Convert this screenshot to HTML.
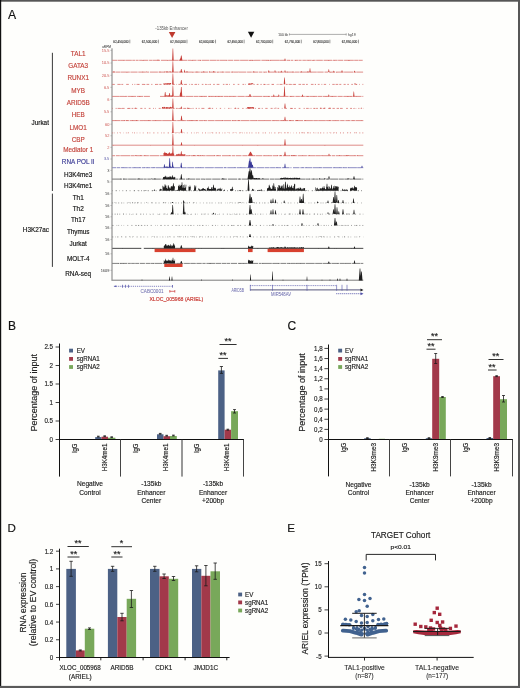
<!DOCTYPE html>
<html><head><meta charset="utf-8"><style>
html,body{margin:0;padding:0;background:#fefefc;}
body{width:520px;height:688px;overflow:hidden;}
svg{display:block;font-family:"Liberation Sans", sans-serif;will-change:transform;}
</style></head><body>
<svg width="520" height="688" viewBox="0 0 520 688" shape-rendering="auto">
<rect width="520" height="688" fill="#fefefc"/>
<text x="8.00" y="18.60" font-size="12.2" fill="#111" stroke="#111" stroke-width="0.16" >A</text>
<text x="171.60" y="29.70" font-size="4.6" fill="#555" text-anchor="middle" textLength="32.5" lengthAdjust="spacingAndGlyphs" >-135kb Enhancer</text>
<polygon points="168.8,32 175.4,32 172.1,37.9" fill="#bf3a2e"/>
<polygon points="247.9,31.7 254.3,31.7 251.1,37.8" fill="#111"/>
<text x="278.20" y="35.70" font-size="3.6" fill="#555" stroke="#555" stroke-width="0.05" textLength="10" lengthAdjust="spacingAndGlyphs" >100 kb</text>
<line x1="289.20" y1="34.40" x2="346.40" y2="34.40" stroke="#777" stroke-width="0.6" />
<line x1="289.40" y1="33.20" x2="289.40" y2="35.60" stroke="#777" stroke-width="0.5" />
<line x1="346.20" y1="33.20" x2="346.20" y2="35.60" stroke="#777" stroke-width="0.5" />
<text x="347.90" y="35.70" font-size="3.6" fill="#555" stroke="#555" stroke-width="0.05" textLength="7.7" lengthAdjust="spacingAndGlyphs" >hg19</text>
<text x="113.20" y="42.90" font-size="3.9" fill="#2a2a2a" stroke="#2a2a2a" stroke-width="0.1" textLength="15.4" lengthAdjust="spacingAndGlyphs" >62,450,000</text>
<line x1="129.80" y1="39.70" x2="129.80" y2="43.30" stroke="#444" stroke-width="0.55" />
<text x="141.78" y="42.90" font-size="3.9" fill="#2a2a2a" stroke="#2a2a2a" stroke-width="0.1" textLength="15.4" lengthAdjust="spacingAndGlyphs" >62,500,000</text>
<line x1="158.38" y1="39.70" x2="158.38" y2="43.30" stroke="#444" stroke-width="0.55" />
<text x="170.36" y="42.90" font-size="3.9" fill="#2a2a2a" stroke="#2a2a2a" stroke-width="0.1" textLength="15.4" lengthAdjust="spacingAndGlyphs" >62,550,000</text>
<line x1="186.96" y1="39.70" x2="186.96" y2="43.30" stroke="#444" stroke-width="0.55" />
<text x="198.94" y="42.90" font-size="3.9" fill="#2a2a2a" stroke="#2a2a2a" stroke-width="0.1" textLength="15.4" lengthAdjust="spacingAndGlyphs" >62,600,000</text>
<line x1="215.54" y1="39.70" x2="215.54" y2="43.30" stroke="#444" stroke-width="0.55" />
<text x="227.52" y="42.90" font-size="3.9" fill="#2a2a2a" stroke="#2a2a2a" stroke-width="0.1" textLength="15.4" lengthAdjust="spacingAndGlyphs" >62,650,000</text>
<line x1="244.12" y1="39.70" x2="244.12" y2="43.30" stroke="#444" stroke-width="0.55" />
<text x="256.10" y="42.90" font-size="3.9" fill="#2a2a2a" stroke="#2a2a2a" stroke-width="0.1" textLength="15.4" lengthAdjust="spacingAndGlyphs" >62,700,000</text>
<line x1="272.70" y1="39.70" x2="272.70" y2="43.30" stroke="#444" stroke-width="0.55" />
<text x="284.68" y="42.90" font-size="3.9" fill="#2a2a2a" stroke="#2a2a2a" stroke-width="0.1" textLength="15.4" lengthAdjust="spacingAndGlyphs" >62,750,000</text>
<line x1="301.28" y1="39.70" x2="301.28" y2="43.30" stroke="#444" stroke-width="0.55" />
<text x="313.26" y="42.90" font-size="3.9" fill="#2a2a2a" stroke="#2a2a2a" stroke-width="0.1" textLength="15.4" lengthAdjust="spacingAndGlyphs" >62,800,000</text>
<line x1="329.86" y1="39.70" x2="329.86" y2="43.30" stroke="#444" stroke-width="0.55" />
<text x="341.84" y="42.90" font-size="3.9" fill="#2a2a2a" stroke="#2a2a2a" stroke-width="0.1" textLength="15.4" lengthAdjust="spacingAndGlyphs" >62,850,000</text>
<line x1="358.44" y1="39.70" x2="358.44" y2="43.30" stroke="#444" stroke-width="0.55" />
<text x="78.20" y="56.05" font-size="7.0" fill="#c4443c" stroke="#c4443c" stroke-width="0.16" text-anchor="middle" textLength="14.75" lengthAdjust="spacingAndGlyphs" >TAL1</text>
<text x="78.20" y="68.15" font-size="7.0" fill="#c4443c" stroke="#c4443c" stroke-width="0.16" text-anchor="middle" textLength="19.94" lengthAdjust="spacingAndGlyphs" >GATA3</text>
<text x="78.20" y="80.25" font-size="7.0" fill="#c4443c" stroke="#c4443c" stroke-width="0.16" text-anchor="middle" textLength="21.59" lengthAdjust="spacingAndGlyphs" >RUNX1</text>
<text x="78.20" y="92.55" font-size="7.0" fill="#c4443c" stroke="#c4443c" stroke-width="0.16" text-anchor="middle" textLength="13.8" lengthAdjust="spacingAndGlyphs" >MYB</text>
<text x="78.20" y="104.85" font-size="7.0" fill="#c4443c" stroke="#c4443c" stroke-width="0.16" text-anchor="middle" textLength="23.01" lengthAdjust="spacingAndGlyphs" >ARID5B</text>
<text x="78.20" y="117.45" font-size="7.0" fill="#c4443c" stroke="#c4443c" stroke-width="0.16" text-anchor="middle" textLength="13.1" lengthAdjust="spacingAndGlyphs" >HEB</text>
<text x="78.20" y="129.75" font-size="7.0" fill="#c4443c" stroke="#c4443c" stroke-width="0.16" text-anchor="middle" textLength="17.35" lengthAdjust="spacingAndGlyphs" >LMO1</text>
<text x="78.20" y="142.05" font-size="7.0" fill="#c4443c" stroke="#c4443c" stroke-width="0.16" text-anchor="middle" textLength="13.1" lengthAdjust="spacingAndGlyphs" >CBP</text>
<text x="78.20" y="151.85" font-size="7.0" fill="#c4443c" stroke="#c4443c" stroke-width="0.16" text-anchor="middle" textLength="30.09" lengthAdjust="spacingAndGlyphs" >Mediator 1</text>
<text x="78.20" y="163.95" font-size="7.0" fill="#3c3c96" stroke="#3c3c96" stroke-width="0.16" text-anchor="middle" textLength="32.69" lengthAdjust="spacingAndGlyphs" >RNA POL II</text>
<text x="78.20" y="176.75" font-size="7.0" fill="#111" stroke="#111" stroke-width="0.16" text-anchor="middle" textLength="28.32" lengthAdjust="spacingAndGlyphs" >H3K4me3</text>
<text x="78.20" y="188.35" font-size="7.0" fill="#111" stroke="#111" stroke-width="0.16" text-anchor="middle" textLength="28.32" lengthAdjust="spacingAndGlyphs" >H3K4me1</text>
<text x="78.20" y="199.55" font-size="7.0" fill="#111" stroke="#111" stroke-width="0.16" text-anchor="middle" textLength="10.98" lengthAdjust="spacingAndGlyphs" >Th1</text>
<text x="78.20" y="210.85" font-size="7.0" fill="#111" stroke="#111" stroke-width="0.16" text-anchor="middle" textLength="10.98" lengthAdjust="spacingAndGlyphs" >Th2</text>
<text x="78.20" y="221.95" font-size="7.0" fill="#111" stroke="#111" stroke-width="0.16" text-anchor="middle" textLength="14.52" lengthAdjust="spacingAndGlyphs" >Th17</text>
<text x="78.20" y="234.05" font-size="7.0" fill="#111" stroke="#111" stroke-width="0.16" text-anchor="middle" textLength="22.65" lengthAdjust="spacingAndGlyphs" >Thymus</text>
<text x="78.20" y="245.65" font-size="7.0" fill="#111" stroke="#111" stroke-width="0.16" text-anchor="middle" textLength="17.35" lengthAdjust="spacingAndGlyphs" >Jurkat</text>
<text x="78.20" y="261.05" font-size="7.0" fill="#111" stroke="#111" stroke-width="0.16" text-anchor="middle" textLength="22.53" lengthAdjust="spacingAndGlyphs" >MOLT-4</text>
<text x="78.20" y="276.35" font-size="7.0" fill="#111" stroke="#111" stroke-width="0.16" text-anchor="middle" textLength="25.84" lengthAdjust="spacingAndGlyphs" >RNA-seq</text>
<line x1="52.40" y1="52.80" x2="52.40" y2="191.00" stroke="#222" stroke-width="0.9" />
<line x1="52.40" y1="193.60" x2="52.40" y2="266.90" stroke="#222" stroke-width="0.9" />
<text x="48.90" y="124.55" font-size="7.0" fill="#111" stroke="#111" stroke-width="0.16" text-anchor="end" textLength="17.35" lengthAdjust="spacingAndGlyphs" >Jurkat</text>
<text x="49.00" y="232.45" font-size="7.0" fill="#111" stroke="#111" stroke-width="0.16" text-anchor="end" textLength="26.2" lengthAdjust="spacingAndGlyphs" >H3K27ac</text>
<line x1="112.00" y1="48.30" x2="112.00" y2="280.90" stroke="#7a7a7a" stroke-width="1.0" />
<text x="111.00" y="48.40" font-size="3.6" fill="#444" stroke="#444" stroke-width="0.05" text-anchor="end" textLength="9" lengthAdjust="spacingAndGlyphs" >uRPM</text>
<text x="109.30" y="51.80" font-size="3.9" fill="#d46a66" stroke="#d46a66" stroke-width="0.04" text-anchor="end" >15.5</text>
<line x1="110.40" y1="50.40" x2="112.00" y2="50.40" stroke="#888" stroke-width="0.5" />
<text x="109.30" y="64.40" font-size="3.9" fill="#d46a66" stroke="#d46a66" stroke-width="0.04" text-anchor="end" >10.5</text>
<line x1="110.40" y1="63.00" x2="112.00" y2="63.00" stroke="#888" stroke-width="0.5" />
<text x="109.30" y="76.70" font-size="3.9" fill="#d46a66" stroke="#d46a66" stroke-width="0.04" text-anchor="end" >20.5</text>
<line x1="110.40" y1="75.30" x2="112.00" y2="75.30" stroke="#888" stroke-width="0.5" />
<text x="109.30" y="88.70" font-size="3.9" fill="#d46a66" stroke="#d46a66" stroke-width="0.04" text-anchor="end" >6.5</text>
<line x1="110.40" y1="87.30" x2="112.00" y2="87.30" stroke="#888" stroke-width="0.5" />
<text x="109.30" y="101.00" font-size="3.9" fill="#d46a66" stroke="#d46a66" stroke-width="0.04" text-anchor="end" >6</text>
<line x1="110.40" y1="99.60" x2="112.00" y2="99.60" stroke="#888" stroke-width="0.5" />
<text x="109.30" y="113.20" font-size="3.9" fill="#d46a66" stroke="#d46a66" stroke-width="0.04" text-anchor="end" >5.5</text>
<line x1="110.40" y1="111.80" x2="112.00" y2="111.80" stroke="#888" stroke-width="0.5" />
<text x="109.30" y="125.60" font-size="3.9" fill="#d46a66" stroke="#d46a66" stroke-width="0.04" text-anchor="end" >60</text>
<line x1="110.40" y1="124.20" x2="112.00" y2="124.20" stroke="#888" stroke-width="0.5" />
<text x="109.30" y="137.20" font-size="3.9" fill="#d46a66" stroke="#d46a66" stroke-width="0.04" text-anchor="end" >52</text>
<line x1="110.40" y1="135.80" x2="112.00" y2="135.80" stroke="#888" stroke-width="0.5" />
<text x="109.30" y="148.70" font-size="3.9" fill="#d46a66" stroke="#d46a66" stroke-width="0.04" text-anchor="end" >2</text>
<line x1="110.40" y1="147.30" x2="112.00" y2="147.30" stroke="#888" stroke-width="0.5" />
<text x="109.30" y="160.40" font-size="3.9" fill="#6a6ab0" stroke="#6a6ab0" stroke-width="0.04" text-anchor="end" >3.5</text>
<line x1="110.40" y1="159.00" x2="112.00" y2="159.00" stroke="#888" stroke-width="0.5" />
<text x="109.30" y="171.80" font-size="3.9" fill="#555" stroke="#555" stroke-width="0.04" text-anchor="end" >3</text>
<line x1="110.40" y1="170.40" x2="112.00" y2="170.40" stroke="#888" stroke-width="0.5" />
<text x="109.30" y="183.30" font-size="3.9" fill="#555" stroke="#555" stroke-width="0.04" text-anchor="end" >5</text>
<line x1="110.40" y1="181.90" x2="112.00" y2="181.90" stroke="#888" stroke-width="0.5" />
<text x="109.30" y="195.20" font-size="3.9" fill="#555" stroke="#555" stroke-width="0.04" text-anchor="end" >16</text>
<line x1="110.40" y1="193.80" x2="112.00" y2="193.80" stroke="#888" stroke-width="0.5" />
<text x="109.30" y="206.90" font-size="3.9" fill="#555" stroke="#555" stroke-width="0.04" text-anchor="end" >16</text>
<line x1="110.40" y1="205.50" x2="112.00" y2="205.50" stroke="#888" stroke-width="0.5" />
<text x="109.30" y="218.20" font-size="3.9" fill="#555" stroke="#555" stroke-width="0.04" text-anchor="end" >16</text>
<line x1="110.40" y1="216.80" x2="112.00" y2="216.80" stroke="#888" stroke-width="0.5" />
<text x="109.30" y="229.40" font-size="3.9" fill="#555" stroke="#555" stroke-width="0.04" text-anchor="end" >16</text>
<line x1="110.40" y1="228.00" x2="112.00" y2="228.00" stroke="#888" stroke-width="0.5" />
<text x="109.30" y="241.00" font-size="3.9" fill="#555" stroke="#555" stroke-width="0.04" text-anchor="end" >16</text>
<line x1="110.40" y1="239.60" x2="112.00" y2="239.60" stroke="#888" stroke-width="0.5" />
<text x="109.30" y="255.20" font-size="3.9" fill="#555" stroke="#555" stroke-width="0.04" text-anchor="end" >16</text>
<line x1="110.40" y1="253.80" x2="112.00" y2="253.80" stroke="#888" stroke-width="0.5" />
<text x="109.30" y="271.70" font-size="3.9" fill="#555" stroke="#555" stroke-width="0.04" text-anchor="end" >1609</text>
<line x1="110.40" y1="270.30" x2="112.00" y2="270.30" stroke="#888" stroke-width="0.5" />
<line x1="112.30" y1="60.30" x2="293.30" y2="60.30" stroke="#cf5550" stroke-width="0.8" stroke-dasharray="4.9 0.4 7.4 0.3 6.5 0.5 2.9 0.6 2.8 0.6 3.0 0.4 5.7 0.8 3.4 0.4 7.2 0.9 6.8 0.5 9.8 0.3 8.9 0.5 3.6 0.4 4.8 0.8 3.9 0.6 7.3 0.5 6.6 0.3 2.9 0.4 7.6 0.6 4.9 0.7 5.9 0.5 8.5 0.7 4.3 0.6 6.4 0.8 8.0 0.5 9.9 0.4 5.6 0.8 3.6 0.6 2.8 0.7 8.2 0.6 9.1 0.5 7.7 0.7 6.8 0.6 8.8 0.9 6.1 0.7 3.0 0.7 7.4 0.9 8.7 0.5 5.4 0.7 2.7 0.6" stroke-opacity="0.85"/>
<line x1="294.50" y1="60.30" x2="363.30" y2="60.30" stroke="#cf5550" stroke-width="0.8" stroke-dasharray="3.8 0.4 2.9 0.8 3.5 0.4 5.4 0.8 3.1 0.6 6.6 0.8 8.6 0.8 4.6 0.5 5.2 0.8 9.7 0.4 3.8 0.4 4.3 0.6 6.9 0.5 2.5 0.6 5.3 0.6 9.6 0.7 6.4 0.7 7.6 0.3 9.2 0.8 9.1 0.8 5.4 0.5 3.3 0.7 3.0 0.3 4.1 0.4 5.1 0.3 2.5 0.4 3.3 0.5 2.7 0.8 7.1 0.4 4.4 0.5 5.2 0.4 8.9 0.9 6.0 0.6 3.1 0.4 5.1 0.5 8.7 0.4 2.7 0.9 6.5 0.4 6.6 0.3 6.5 0.9 9.0 0.7 4.5 0.5 3.8 0.8 6.5 0.8" stroke-opacity="0.85"/>
<path d="M172.10,60.4L172.66,48.60L173.14,48.60L173.70,60.4ZM180.20,60.4L181.00,55.40L181.60,55.40L182.40,60.4ZM179.50,60.4L180.06,58.40L180.54,58.40L181.10,60.4ZM284.30,60.4L284.79,58.40L285.21,58.40L285.70,60.4ZM157.40,60.4L157.82,59.60L158.18,59.60L158.60,60.4ZM123.3,60.4h0.7v-0.16h-0.7ZM142.3,60.4h1.2v-0.38h-1.2ZM167.3,60.4h1.0v-0.49h-1.0ZM191.3,60.4h0.6v-0.30h-0.6ZM192.3,60.4h0.6v-0.43h-0.6ZM200.3,60.4h0.7v-0.35h-0.7ZM226.3,60.4h0.6v-0.23h-0.6ZM249.3,60.4h0.9v-0.34h-0.9ZM250.3,60.4h1.0v-0.27h-1.0ZM252.3,60.4h1.1v-0.49h-1.1ZM254.3,60.4h0.5v-0.24h-0.5ZM266.3,60.4h1.1v-0.17h-1.1ZM268.3,60.4h1.0v-0.48h-1.0ZM270.3,60.4h0.6v-0.45h-0.6ZM280.3,60.4h0.5v-0.21h-0.5ZM289.3,60.4h0.5v-0.24h-0.5ZM295.3,60.4h0.8v-0.44h-0.8ZM308.3,60.4h0.6v-0.20h-0.6ZM312.3,60.4h1.2v-0.44h-1.2ZM328.3,60.4h0.9v-0.28h-0.9ZM332.3,60.4h0.6v-0.24h-0.6ZM334.3,60.4h0.7v-0.16h-0.7ZM348.3,60.4h1.2v-0.44h-1.2Z" fill="#c8403a"/>
<line x1="112.30" y1="72.10" x2="363.30" y2="72.10" stroke="#cf5550" stroke-width="0.8" stroke-dasharray="2.7 0.4 5.2 0.4 8.8 0.6 7.2 0.7 7.6 0.6 2.5 0.8 8.1 0.6 6.5 0.7 3.0 0.7 4.4 0.3 4.5 0.7 4.0 0.7 9.8 0.6 5.4 0.6 7.6 0.8 7.1 0.7 3.1 0.4 4.4 0.7 4.8 0.6 2.6 0.3 4.5 0.7 7.7 0.7 4.7 0.6 6.0 0.6 3.4 0.8 4.0 0.9 9.5 0.3 5.9 0.8 9.8 0.6 4.5 0.4 9.6 0.4 6.9 0.4 6.4 0.9 3.5 0.8 6.3 0.8 7.8 0.4 9.2 0.6 2.7 0.3 6.2 0.6 4.8 0.4 5.1 0.5" stroke-opacity="0.85"/>
<path d="M172.10,72.2L172.66,61.20L173.14,61.20L173.70,72.2ZM180.40,72.2L181.03,69.00L181.57,69.00L182.20,72.2ZM166.30,72.2L166.79,71.00L167.21,71.00L167.70,72.2ZM183.90,72.2L184.32,69.70L184.68,69.70L185.10,72.2ZM186.40,72.2L186.82,71.00L187.18,71.00L187.60,72.2ZM203.10,72.2L203.59,71.20L204.01,71.20L204.50,72.2ZM213.00,72.2L213.56,71.00L214.04,71.00L214.60,72.2ZM159.40,72.2L159.82,71.40L160.18,71.40L160.60,72.2ZM164.40,72.2L164.82,71.20L165.18,71.20L165.60,72.2ZM169.40,72.2L169.82,71.10L170.18,71.10L170.60,72.2ZM253.10,72.2L253.59,71.20L254.01,71.20L254.50,72.2ZM268.10,72.2L268.59,70.20L269.01,70.20L269.50,72.2ZM274.30,72.2L274.79,70.20L275.21,70.20L275.70,72.2ZM280.60,72.2L281.09,70.70L281.51,70.70L282.00,72.2ZM284.30,72.2L284.79,70.20L285.21,70.20L285.70,72.2ZM300.60,72.2L301.09,71.20L301.51,71.20L302.00,72.2ZM309.30,72.2L309.79,68.20L310.21,68.20L310.70,72.2ZM328.10,72.2L328.59,69.20L329.01,69.20L329.50,72.2ZM333.10,72.2L333.59,70.70L334.01,70.70L334.50,72.2ZM341.30,72.2L341.79,70.20L342.21,70.20L342.70,72.2ZM353.80,72.2L354.29,70.70L354.71,70.70L355.20,72.2ZM113.3,72.2h1.2v-0.58h-1.2ZM126.3,72.2h1.2v-0.26h-1.2ZM142.3,72.2h0.9v-0.57h-0.9ZM146.3,72.2h0.6v-0.66h-0.6ZM168.3,72.2h0.6v-0.38h-0.6ZM179.3,72.2h1.3v-0.35h-1.3ZM192.3,72.2h1.1v-0.23h-1.1ZM196.3,72.2h1.2v-0.40h-1.2ZM201.3,72.2h0.9v-0.29h-0.9ZM209.3,72.2h0.7v-0.59h-0.7ZM217.3,72.2h0.9v-0.24h-0.9ZM222.3,72.2h0.9v-0.36h-0.9ZM232.3,72.2h1.0v-0.45h-1.0ZM238.3,72.2h0.8v-0.38h-0.8ZM264.3,72.2h0.8v-0.24h-0.8ZM274.3,72.2h0.8v-0.54h-0.8ZM278.3,72.2h0.8v-0.35h-0.8ZM287.3,72.2h0.8v-0.44h-0.8ZM292.3,72.2h1.1v-0.41h-1.1ZM294.3,72.2h0.6v-0.23h-0.6ZM307.3,72.2h1.2v-0.58h-1.2ZM310.3,72.2h0.9v-0.32h-0.9ZM328.3,72.2h1.1v-0.31h-1.1ZM330.3,72.2h0.9v-0.23h-0.9ZM336.3,72.2h0.9v-0.26h-0.9Z" fill="#c8403a"/>
<line x1="112.30" y1="84.40" x2="363.30" y2="84.40" stroke="#cf5550" stroke-width="0.8" stroke-dasharray="2.5 2.6 3.0 1.1 1.7 3.0 2.6 3.3 0.7 1.6 0.9 1.3 2.9 2.4 2.8 1.8 2.7 2.0 1.2 2.9 2.9 1.1 2.0 2.5 1.1 1.8 0.9 1.4 1.2 2.4 2.2 1.3 0.6 1.7 2.2 1.3 1.3 1.3 2.5 2.3 0.8 1.1 1.5 2.3 2.1 1.0 1.0 2.7 1.6 1.6 1.3 3.4 1.3 2.3 1.5 1.9 2.7 3.5 1.5 1.3 2.3 1.3 0.6 3.2 1.6 3.0 1.6 3.2 1.7 1.2 0.6 2.3 2.1 3.3 0.8 2.5 1.5 2.2 1.0 1.6 1.9 3.3 0.9 2.1 2.5 3.4 1.1 1.1 2.9 3.4 1.8 0.9 2.8 1.8 2.8 2.5 2.6 1.2 2.5 1.4 1.6 3.1 2.6 1.3 1.1 1.9 1.8 1.8 0.9 1.5 2.3 3.2 0.7 2.3 2.4 0.9 2.6 1.1 2.0 2.3 2.1 1.6 1.6 2.4 1.6 2.6 1.7 2.0 0.7 2.5 1.8 1.4 2.4 2.9 1.7 1.3" stroke-opacity="0.85"/>
<path d="M172.10,84.5L172.66,73.50L173.14,73.50L173.70,84.5ZM180.40,84.5L181.03,80.00L181.57,80.00L182.20,84.5ZM283.70,84.5L284.26,77.50L284.74,77.50L285.30,84.5ZM354.30,84.5L354.79,83.00L355.21,83.00L355.70,84.5ZM163.50,84.5L163.50,83.13L164.00,83.13L164.10,83.42L164.60,83.42L164.70,83.41L165.20,83.41L165.30,83.16L165.80,83.16L165.90,83.44L166.40,83.44L166.50,83.15L167.00,83.15L167.10,83.10L167.60,83.10L167.70,83.48L168.20,83.48L168.30,82.99L168.80,82.99L168.90,83.44L169.40,83.44L169.50,82.92L170.00,82.92L170.10,82.88L170.60,82.88L170.70,83.10L171.20,83.10L171.00,84.5ZM248.00,84.5L248.00,83.75L248.50,83.75L248.60,83.49L249.10,83.49L249.20,83.56L249.70,83.56L249.80,83.23L250.30,83.23L250.40,83.71L250.90,83.71L251.00,83.28L251.50,83.28L251.60,83.20L252.10,83.20L252.20,83.36L252.70,83.36L252.80,83.31L253.30,83.31L253.00,84.5ZM120.3,84.5h1.1v-0.27h-1.1ZM132.3,84.5h0.6v-0.21h-0.6ZM138.3,84.5h1.0v-0.34h-1.0ZM144.3,84.5h1.0v-0.50h-1.0ZM155.3,84.5h0.7v-0.44h-0.7ZM161.3,84.5h0.6v-0.16h-0.6ZM169.3,84.5h0.8v-0.15h-0.8ZM170.3,84.5h0.7v-0.28h-0.7ZM180.3,84.5h1.2v-0.37h-1.2ZM184.3,84.5h0.9v-0.38h-0.9ZM192.3,84.5h0.8v-0.34h-0.8ZM194.3,84.5h0.5v-0.42h-0.5ZM206.3,84.5h1.1v-0.46h-1.1ZM208.3,84.5h1.1v-0.45h-1.1ZM213.3,84.5h0.5v-0.23h-0.5ZM229.3,84.5h0.7v-0.24h-0.7ZM252.3,84.5h0.6v-0.47h-0.6ZM253.3,84.5h1.2v-0.19h-1.2ZM256.3,84.5h1.1v-0.16h-1.1ZM260.3,84.5h0.8v-0.36h-0.8ZM264.3,84.5h1.2v-0.45h-1.2ZM266.3,84.5h0.6v-0.22h-0.6ZM267.3,84.5h1.1v-0.45h-1.1ZM272.3,84.5h1.1v-0.18h-1.1ZM276.3,84.5h0.7v-0.24h-0.7ZM284.3,84.5h0.8v-0.29h-0.8ZM291.3,84.5h0.6v-0.44h-0.6ZM292.3,84.5h1.1v-0.22h-1.1ZM294.3,84.5h0.9v-0.32h-0.9ZM306.3,84.5h0.6v-0.37h-0.6ZM315.3,84.5h0.5v-0.46h-0.5ZM356.3,84.5h0.6v-0.49h-0.6Z" fill="#c8403a"/>
<line x1="112.30" y1="96.40" x2="150.00" y2="96.40" stroke="#cf5550" stroke-width="0.8" stroke-dasharray="7.3 0.4 4.0 0.5 2.8 0.5 8.4 0.7 6.3 0.7 6.0 0.4 7.0 0.5 8.1 0.8 5.7 0.6 8.1 0.6 4.2 0.7 9.1 0.8 7.8 0.8 7.6 0.7 5.9 0.5 7.2 0.4 5.6 0.8 7.8 0.7 4.4 0.6 5.9 0.7 5.6 0.7 9.5 0.4 7.4 0.8 5.4 0.6 9.8 0.3 6.6 0.4 8.4 0.9 6.4 0.4 6.8 0.6 7.9 0.6 7.3 0.8 6.4 0.5 9.6 0.4 7.6 0.5 8.2 0.4" stroke-opacity="0.85"/>
<line x1="160.00" y1="96.40" x2="363.30" y2="96.40" stroke="#cf5550" stroke-width="0.8" stroke-dasharray="9.9 0.5 2.9 0.5 5.5 0.3 5.6 0.6 7.7 0.5 4.5 0.4 8.1 0.9 6.5 0.4 8.5 0.5 4.1 0.4 8.3 0.8 7.3 0.6 6.7 0.4 9.7 0.5 7.3 0.8 8.6 0.6 4.7 0.6 3.4 0.8 5.2 0.8 4.5 0.5 4.4 0.6 3.9 0.3 7.9 0.5 4.3 0.5 6.1 0.6 7.3 0.7 5.2 0.9 8.9 0.3 8.7 0.8 8.4 0.4 8.7 0.7 2.6 0.3 9.6 0.7 4.4 0.4 3.6 0.4 8.3 0.5 3.6 0.8 8.4 0.4" stroke-opacity="0.85"/>
<path d="M172.10,96.5L172.66,85.50L173.14,85.50L173.70,96.5ZM164.40,96.5L164.96,92.10L165.44,92.10L166.00,96.5ZM168.80,96.5L169.36,93.10L169.84,93.10L170.40,96.5ZM180.30,96.5L181.00,87.00L181.60,87.00L182.30,96.5ZM179.50,96.5L180.20,92.50L180.80,92.50L181.50,96.5ZM249.00,96.5L249.70,94.00L250.30,94.00L251.00,96.5ZM273.10,96.5L273.59,94.50L274.01,94.50L274.50,96.5ZM278.10,96.5L278.59,94.50L279.01,94.50L279.50,96.5ZM283.70,96.5L284.26,86.50L284.74,86.50L285.30,96.5ZM301.80,96.5L302.29,94.50L302.71,94.50L303.20,96.5ZM328.10,96.5L328.59,94.50L329.01,94.50L329.50,96.5ZM353.10,96.5L353.59,91.50L354.01,91.50L354.50,96.5ZM166.00,96.5L166.00,95.36L166.50,95.36L166.60,95.51L167.10,95.51L167.20,95.42L167.70,95.42L167.80,95.48L168.30,95.48L168.40,95.36L168.90,95.36L169.00,95.41L169.50,95.41L169.60,95.39L170.10,95.39L170.20,95.73L170.70,95.73L170.80,95.47L171.30,95.47L171.40,95.55L171.90,95.55L172.00,95.44L172.50,95.44L172.00,96.5ZM119.3,96.5h0.6v-0.31h-0.6ZM124.3,96.5h0.9v-0.44h-0.9ZM131.3,96.5h1.0v-0.37h-1.0ZM132.3,96.5h1.0v-0.36h-1.0ZM139.3,96.5h1.0v-0.40h-1.0ZM166.3,96.5h1.2v-0.40h-1.2ZM168.3,96.5h0.5v-0.26h-0.5ZM185.3,96.5h0.5v-0.21h-0.5ZM200.3,96.5h0.5v-0.35h-0.5ZM201.3,96.5h1.0v-0.43h-1.0ZM204.3,96.5h1.0v-0.29h-1.0ZM209.3,96.5h0.7v-0.38h-0.7ZM211.3,96.5h1.0v-0.15h-1.0ZM214.3,96.5h0.6v-0.45h-0.6ZM215.3,96.5h0.7v-0.40h-0.7ZM218.3,96.5h1.1v-0.42h-1.1ZM221.3,96.5h1.1v-0.37h-1.1ZM227.3,96.5h1.0v-0.16h-1.0ZM229.3,96.5h1.1v-0.26h-1.1ZM233.3,96.5h1.0v-0.28h-1.0ZM248.3,96.5h1.1v-0.49h-1.1ZM264.3,96.5h0.8v-0.24h-0.8ZM268.3,96.5h1.1v-0.44h-1.1ZM277.3,96.5h1.1v-0.34h-1.1ZM290.3,96.5h1.1v-0.43h-1.1ZM307.3,96.5h0.8v-0.50h-0.8ZM308.3,96.5h1.1v-0.37h-1.1ZM313.3,96.5h1.3v-0.16h-1.3ZM325.3,96.5h0.6v-0.22h-0.6ZM326.3,96.5h0.9v-0.17h-0.9ZM331.3,96.5h0.8v-0.36h-0.8ZM332.3,96.5h0.7v-0.49h-0.7ZM343.3,96.5h0.8v-0.24h-0.8ZM347.3,96.5h1.1v-0.43h-1.1ZM350.3,96.5h1.1v-0.20h-1.1ZM356.3,96.5h0.7v-0.26h-0.7Z" fill="#c8403a"/>
<line x1="112.30" y1="108.40" x2="363.30" y2="108.40" stroke="#cf5550" stroke-width="0.8" stroke-dasharray="0.6 2.7 1.1 0.9 2.8 1.4 2.8 3.1 2.7 1.2 1.7 1.1 2.8 3.1 2.1 2.0 1.4 3.0 1.7 2.5 0.9 1.4 0.7 2.7 1.9 1.2 2.7 1.5 1.6 1.2 1.3 3.1 1.4 1.3 1.8 1.7 2.8 1.1 2.9 1.0 2.7 2.6 1.1 2.1 1.3 1.5 1.1 1.8 3.0 3.5 2.8 1.1 1.3 3.2 0.7 2.8 1.3 3.4 0.6 3.0 1.4 1.2 0.6 3.0 1.9 1.3 1.6 3.3 1.1 2.3 0.9 1.3 2.4 2.7 1.1 1.0 0.8 2.4 1.8 1.5 1.1 2.5 2.3 3.0 2.0 1.3 0.8 2.8 1.6 2.7 0.7 3.0 1.4 3.1 2.7 2.1 0.6 3.3 1.7 3.2 1.2 1.3 2.6 1.8 1.0 1.8 2.0 0.8 1.8 2.0 1.8 1.1 2.3 3.0 2.7 1.7 2.3 1.8 2.4 1.0 2.7 3.4 1.8 2.2 1.9 2.3 0.6 3.4 1.1 1.3 0.8 1.5 2.6 0.9 0.8 2.7 1.1 0.8 2.0 2.4" stroke-opacity="0.85"/>
<path d="M172.10,108.5L172.66,98.50L173.14,98.50L173.70,108.5ZM180.50,108.5L181.06,106.50L181.54,106.50L182.10,108.5ZM284.20,108.5L284.76,103.50L285.24,103.50L285.80,108.5ZM162.00,108.5L162.00,107.09L162.50,107.09L162.60,106.94L163.10,106.94L163.20,107.43L163.70,107.43L163.80,106.81L164.30,106.81L164.40,106.93L164.90,106.93L165.00,107.47L165.50,107.47L165.60,107.41L166.10,107.41L166.20,107.11L166.70,107.11L166.80,107.10L167.30,107.10L167.40,107.28L167.90,107.28L168.00,107.41L168.50,107.41L168.60,107.18L169.10,107.18L169.20,107.40L169.70,107.40L169.80,107.03L170.30,107.03L170.40,106.81L170.90,106.81L171.00,107.39L171.50,107.39L171.60,107.05L172.10,107.05L172.00,108.5ZM247.00,108.5L247.00,107.08L247.50,107.08L247.60,107.50L248.10,107.50L248.20,107.03L248.70,107.03L248.80,106.94L249.30,106.94L249.40,107.34L249.90,107.34L250.00,107.32L250.50,107.32L250.60,107.02L251.10,107.02L251.20,107.24L251.70,107.24L251.80,107.34L252.30,107.34L252.40,106.94L252.90,106.94L253.00,107.06L253.50,107.06L253.60,107.38L254.10,107.38L254.00,108.5ZM120.3,108.5h1.3v-0.60h-1.3ZM127.3,108.5h0.9v-0.54h-0.9ZM128.3,108.5h1.3v-0.36h-1.3ZM135.3,108.5h0.7v-0.67h-0.7ZM162.3,108.5h1.2v-0.61h-1.2ZM178.3,108.5h1.2v-0.49h-1.2ZM187.3,108.5h0.9v-0.82h-0.9ZM188.3,108.5h0.9v-0.51h-0.9ZM190.3,108.5h1.3v-0.41h-1.3ZM209.3,108.5h1.0v-0.75h-1.0ZM235.3,108.5h0.8v-0.85h-0.8ZM242.3,108.5h1.0v-0.30h-1.0ZM258.3,108.5h0.8v-0.51h-0.8ZM275.3,108.5h1.1v-0.83h-1.1ZM291.3,108.5h1.1v-0.53h-1.1ZM294.3,108.5h1.2v-0.46h-1.2ZM309.3,108.5h0.6v-0.33h-0.6ZM314.3,108.5h1.1v-0.28h-1.1ZM320.3,108.5h1.0v-0.84h-1.0ZM324.3,108.5h1.0v-0.83h-1.0ZM329.3,108.5h1.2v-0.86h-1.2ZM353.3,108.5h0.8v-0.61h-0.8ZM355.3,108.5h1.2v-0.35h-1.2ZM361.3,108.5h0.8v-0.69h-0.8Z" fill="#c8403a"/>
<line x1="112.30" y1="120.60" x2="363.30" y2="120.60" stroke="#cf5550" stroke-width="0.8" stroke-dasharray="7.8 0.4 4.5 0.8 3.5 0.6 8.8 0.8 3.7 0.5 7.9 0.5 9.7 0.4 9.6 0.6 4.2 0.6 3.5 0.7 4.5 0.8 6.9 0.5 4.3 0.7 4.1 0.8 3.4 0.6 6.6 0.5 8.3 0.5 7.4 0.6 4.8 0.5 3.1 0.4 8.9 0.5 7.5 0.4 6.7 0.5 6.3 0.5 3.0 0.5 4.2 0.4 7.9 0.5 5.5 0.8 8.3 0.8 9.0 0.4 4.6 0.3 7.6 0.7 5.1 0.5 7.4 0.7 4.4 0.8 5.1 0.7 3.9 0.4 9.3 0.7 7.8 0.3" stroke-opacity="0.85"/>
<path d="M172.10,120.7L172.66,109.20L173.14,109.20L173.70,120.7ZM180.60,120.7L181.23,115.70L181.77,115.70L182.40,120.7ZM284.20,120.7L284.76,116.70L285.24,116.70L285.80,120.7ZM112.3,120.7h0.7v-0.25h-0.7ZM115.3,120.7h1.0v-0.31h-1.0ZM124.3,120.7h1.1v-0.53h-1.1ZM126.3,120.7h1.0v-0.54h-1.0ZM127.3,120.7h0.6v-0.28h-0.6ZM132.3,120.7h0.8v-0.47h-0.8ZM136.3,120.7h0.8v-0.58h-0.8ZM143.3,120.7h0.8v-0.47h-0.8ZM148.3,120.7h1.1v-0.48h-1.1ZM155.3,120.7h0.8v-0.33h-0.8ZM181.3,120.7h0.8v-0.30h-0.8ZM183.3,120.7h0.7v-0.30h-0.7ZM186.3,120.7h0.9v-0.32h-0.9ZM189.3,120.7h1.3v-0.18h-1.3ZM191.3,120.7h1.3v-0.48h-1.3ZM193.3,120.7h0.8v-0.39h-0.8ZM196.3,120.7h1.0v-0.57h-1.0ZM203.3,120.7h1.2v-0.51h-1.2ZM222.3,120.7h1.0v-0.42h-1.0ZM232.3,120.7h0.6v-0.47h-0.6ZM235.3,120.7h0.9v-0.20h-0.9ZM238.3,120.7h1.2v-0.53h-1.2ZM256.3,120.7h0.9v-0.32h-0.9ZM264.3,120.7h1.0v-0.46h-1.0ZM273.3,120.7h1.0v-0.26h-1.0ZM275.3,120.7h0.8v-0.46h-0.8ZM281.3,120.7h1.2v-0.26h-1.2ZM283.3,120.7h0.7v-0.54h-0.7ZM284.3,120.7h0.7v-0.40h-0.7ZM289.3,120.7h1.0v-0.40h-1.0ZM290.3,120.7h0.6v-0.35h-0.6ZM296.3,120.7h1.1v-0.60h-1.1ZM297.3,120.7h0.8v-0.53h-0.8ZM304.3,120.7h0.8v-0.28h-0.8ZM305.3,120.7h0.7v-0.43h-0.7ZM326.3,120.7h0.6v-0.43h-0.6ZM329.3,120.7h1.0v-0.57h-1.0ZM335.3,120.7h0.6v-0.19h-0.6ZM348.3,120.7h0.6v-0.32h-0.6ZM352.3,120.7h1.2v-0.26h-1.2ZM361.3,120.7h0.7v-0.32h-0.7Z" fill="#c8403a"/>
<line x1="112.30" y1="132.90" x2="363.30" y2="132.90" stroke="#cf5550" stroke-width="0.8" stroke-dasharray="0.9 1.3 0.5 2.0 0.8 2.5 0.7 2.0 0.4 2.5 0.7 1.2 0.8 3.5 0.4 1.5 0.9 1.8 0.6 2.4 0.6 2.5 0.8 3.4 1.2 1.3 0.8 3.0 1.1 3.0 0.9 2.7 0.7 1.8 1.0 3.2 1.2 2.8 0.6 3.0 1.0 2.4 0.9 2.0 0.8 2.1 0.4 2.0 0.7 3.5 0.8 2.0 0.6 1.7 0.7 1.5 0.4 3.2 0.8 2.2 0.9 1.9 0.5 1.4 0.6 1.9 1.0 2.5 1.1 2.0 1.1 2.5 0.5 1.6 0.9 3.5 0.7 3.0 0.7 3.2 0.5 2.3 1.1 1.8 0.6 1.3 0.5 1.8 1.0 1.7 0.7 1.7 0.9 3.2 0.9 1.7 1.0 3.4 0.9 1.4 1.0 3.2 0.7 1.5 0.6 2.4 1.1 2.7 1.1 1.7 0.7 2.9 0.9 2.1 0.9 2.0 0.4 2.2 0.4 2.6 0.7 2.3 0.9 1.8 0.8 1.2 1.1 2.5 1.2 1.3 0.9 2.9 0.7 1.4 0.5 1.5 1.0 1.4 1.1 2.2 0.8 2.6 0.8 2.7 0.9 2.0 1.0 1.8 1.0 3.0 1.0 1.9 1.0 3.4 0.8 1.8 0.8 3.4 0.5 1.2 0.8 2.7 1.0 2.0 1.2 1.7 1.0 1.4 0.4 1.5 0.4 2.4 0.8 1.6" stroke-opacity="0.85"/>
<path d="M172.10,133.0L172.66,122.00L173.14,122.00L173.70,133.0ZM180.60,133.0L181.23,129.00L181.77,129.00L182.40,133.0ZM119.3,133.0h0.7v-0.25h-0.7ZM128.3,133.0h0.6v-0.24h-0.6ZM132.3,133.0h0.8v-0.21h-0.8ZM173.3,133.0h1.3v-0.11h-1.3ZM174.3,133.0h0.6v-0.28h-0.6ZM176.3,133.0h1.0v-0.13h-1.0ZM177.3,133.0h1.2v-0.16h-1.2ZM181.3,133.0h1.1v-0.14h-1.1ZM183.3,133.0h0.7v-0.20h-0.7ZM185.3,133.0h1.3v-0.09h-1.3ZM197.3,133.0h0.9v-0.16h-0.9ZM207.3,133.0h0.9v-0.10h-0.9ZM211.3,133.0h1.0v-0.23h-1.0ZM227.3,133.0h1.2v-0.22h-1.2ZM233.3,133.0h1.1v-0.27h-1.1ZM235.3,133.0h0.8v-0.24h-0.8ZM240.3,133.0h1.2v-0.25h-1.2ZM279.3,133.0h1.2v-0.17h-1.2ZM284.3,133.0h1.1v-0.16h-1.1ZM287.3,133.0h1.3v-0.17h-1.3ZM301.3,133.0h1.0v-0.13h-1.0ZM302.3,133.0h1.1v-0.13h-1.1ZM307.3,133.0h1.2v-0.22h-1.2ZM313.3,133.0h0.8v-0.18h-0.8ZM329.3,133.0h0.8v-0.25h-0.8ZM334.3,133.0h0.9v-0.21h-0.9ZM347.3,133.0h0.9v-0.23h-0.9ZM350.3,133.0h0.6v-0.14h-0.6ZM352.3,133.0h1.1v-0.11h-1.1ZM354.3,133.0h1.1v-0.23h-1.1ZM356.3,133.0h0.8v-0.24h-0.8Z" fill="#c8403a"/>
<line x1="112.30" y1="145.20" x2="363.30" y2="145.20" stroke="#cf5550" stroke-width="0.8"  stroke-opacity="0.85"/>
<path d="M172.10,145.3L172.66,133.80L173.14,133.80L173.70,145.3ZM180.70,145.3L181.26,142.30L181.74,142.30L182.30,145.3ZM284.20,145.3L284.76,139.30L285.24,139.30L285.80,145.3ZM113.3,145.3h0.7v-0.20h-0.7ZM121.3,145.3h1.2v-0.10h-1.2ZM126.3,145.3h0.8v-0.14h-0.8ZM135.3,145.3h0.9v-0.10h-0.9ZM149.3,145.3h1.0v-0.12h-1.0ZM150.3,145.3h0.6v-0.18h-0.6ZM165.3,145.3h1.1v-0.07h-1.1ZM173.3,145.3h0.5v-0.16h-0.5ZM188.3,145.3h1.0v-0.11h-1.0ZM191.3,145.3h1.1v-0.13h-1.1ZM194.3,145.3h0.6v-0.18h-0.6ZM204.3,145.3h1.2v-0.13h-1.2ZM207.3,145.3h0.7v-0.08h-0.7ZM212.3,145.3h1.3v-0.14h-1.3ZM216.3,145.3h0.9v-0.11h-0.9ZM222.3,145.3h0.6v-0.14h-0.6ZM227.3,145.3h0.6v-0.13h-0.6ZM242.3,145.3h0.6v-0.18h-0.6ZM245.3,145.3h0.6v-0.13h-0.6ZM257.3,145.3h0.9v-0.19h-0.9ZM265.3,145.3h0.9v-0.12h-0.9ZM268.3,145.3h0.7v-0.14h-0.7ZM272.3,145.3h1.0v-0.09h-1.0ZM274.3,145.3h1.1v-0.15h-1.1ZM280.3,145.3h0.8v-0.19h-0.8ZM282.3,145.3h1.1v-0.09h-1.1ZM303.3,145.3h0.8v-0.16h-0.8ZM324.3,145.3h1.1v-0.20h-1.1ZM342.3,145.3h1.2v-0.15h-1.2ZM347.3,145.3h0.5v-0.13h-0.5ZM348.3,145.3h0.8v-0.17h-0.8ZM357.3,145.3h1.1v-0.10h-1.1Z" fill="#c8403a"/>
<line x1="112.30" y1="155.70" x2="363.30" y2="155.70" stroke="#cf5550" stroke-width="0.8" stroke-dasharray="2.8 0.8 3.9 0.5 9.7 0.5 4.2 0.8 7.1 0.8 5.5 0.6 9.7 0.6 9.9 0.4 8.7 0.4 6.5 0.3 3.8 0.9 5.9 0.8 4.4 0.5 3.3 0.6 9.0 0.6 5.3 0.9 9.2 0.7 3.1 0.7 5.8 0.9 5.2 0.7 7.2 0.5 6.4 0.7 9.3 0.6 5.2 0.9 2.9 0.8 7.6 0.6 5.9 0.8 9.2 0.7 8.1 0.3 4.9 0.4 9.6 0.8 3.6 0.7 6.8 0.3 5.4 0.7 7.3 0.5 8.2 0.5 6.6 0.6 9.8 0.7" stroke-opacity="0.85"/>
<path d="M172.10,155.8L172.66,145.80L173.14,145.80L173.70,155.8ZM164.00,155.8L164.56,151.80L165.04,151.80L165.60,155.8ZM168.90,155.8L169.46,152.30L169.94,152.30L170.50,155.8ZM180.40,155.8L181.03,151.30L181.57,151.30L182.20,155.8ZM248.00,155.8L250.20,151.80L250.80,151.80L253.00,155.8ZM284.10,155.8L284.73,151.80L285.27,151.80L285.90,155.8ZM328.20,155.8L328.76,153.80L329.24,153.80L329.80,155.8ZM163.50,155.8L163.50,152.88L164.00,152.88L164.10,153.07L164.60,153.07L164.70,153.49L165.20,153.49L165.30,152.65L165.80,152.65L165.90,153.02L166.40,153.02L166.50,153.05L167.00,153.05L167.10,153.64L167.60,153.64L167.70,153.81L168.20,153.81L168.30,153.21L168.80,153.21L168.90,152.85L169.40,152.85L169.50,152.90L170.00,152.90L170.10,153.54L170.60,153.54L170.70,153.84L171.20,153.84L171.30,153.30L171.80,153.30L171.90,152.78L172.40,152.78L172.50,153.81L173.00,153.81L173.10,152.98L173.60,152.98L173.70,153.79L174.20,153.79L174.00,155.8ZM176.00,155.8L176.00,154.28L176.50,154.28L176.60,154.54L177.10,154.54L177.20,154.30L177.70,154.30L177.80,154.21L178.30,154.21L178.40,153.63L178.90,153.63L179.00,153.64L179.50,153.64L179.60,154.40L180.10,154.40L180.20,154.28L180.70,154.28L180.80,153.66L181.30,153.66L181.40,154.39L181.90,154.39L182.00,154.27L182.50,154.27L182.60,154.16L183.10,154.16L183.20,154.48L183.70,154.48L183.80,154.33L184.30,154.33L184.40,154.20L184.90,154.20L185.00,154.21L185.50,154.21L185.00,155.8ZM135.3,155.8h1.0v-0.79h-1.0ZM140.3,155.8h1.1v-0.62h-1.1ZM144.3,155.8h1.0v-0.46h-1.0ZM164.3,155.8h0.9v-0.53h-0.9ZM189.3,155.8h1.2v-0.65h-1.2ZM193.3,155.8h1.3v-0.70h-1.3ZM197.3,155.8h0.8v-0.80h-0.8ZM198.3,155.8h0.6v-0.67h-0.6ZM200.3,155.8h0.9v-0.55h-0.9ZM202.3,155.8h0.6v-0.79h-0.6ZM214.3,155.8h0.5v-0.76h-0.5ZM217.3,155.8h1.1v-0.67h-1.1ZM229.3,155.8h0.6v-0.57h-0.6ZM254.3,155.8h0.5v-0.40h-0.5ZM264.3,155.8h0.8v-0.38h-0.8ZM268.3,155.8h0.6v-0.34h-0.6ZM277.3,155.8h0.9v-0.62h-0.9ZM280.3,155.8h1.1v-0.84h-1.1ZM289.3,155.8h1.0v-0.40h-1.0ZM291.3,155.8h1.1v-0.79h-1.1ZM293.3,155.8h0.9v-0.83h-0.9ZM294.3,155.8h1.0v-0.47h-1.0ZM302.3,155.8h0.6v-0.64h-0.6ZM309.3,155.8h0.5v-0.73h-0.5ZM321.3,155.8h1.3v-0.42h-1.3ZM328.3,155.8h1.3v-0.33h-1.3ZM330.3,155.8h0.7v-0.30h-0.7ZM339.3,155.8h0.6v-0.75h-0.6ZM346.3,155.8h1.2v-0.77h-1.2ZM348.3,155.8h0.9v-0.81h-0.9ZM354.3,155.8h0.9v-0.30h-0.9ZM357.3,155.8h0.5v-0.74h-0.5Z" fill="#c8403a"/>
<line x1="112.30" y1="167.70" x2="291.50" y2="167.70" stroke="#5555a8" stroke-width="0.8" stroke-dasharray="4.1 0.6 3.3 0.9 6.6 0.5 3.2 0.7 8.9 0.8 3.3 0.5 4.8 0.8 3.6 0.7 9.8 0.8 2.6 0.3 3.4 0.7 7.0 0.6 5.9 0.5 7.1 0.7 9.4 0.7 8.5 0.8 8.8 0.7 2.7 0.7 8.9 0.6 9.1 0.4 9.6 0.6 7.8 0.5 4.8 0.5 4.9 0.4 5.8 0.9 7.4 0.9 8.2 0.8 10.0 0.8 4.6 0.4 5.6 0.3 4.2 0.8 9.4 0.5 8.3 0.8 9.2 0.8 6.5 0.4 8.7 0.5 7.2 0.5" stroke-opacity="0.85"/>
<line x1="293.00" y1="167.70" x2="363.30" y2="167.70" stroke="#5555a8" stroke-width="0.8" stroke-dasharray="6.5 0.9 3.7 0.6 7.4 0.6 9.5 0.5 9.4 0.7 9.8 0.4 4.1 0.5 9.3 0.3 4.5 0.7 9.9 0.4 5.8 0.7 7.7 0.7 8.1 0.4 4.4 0.3 7.7 0.4 4.4 0.9 7.3 0.7 7.4 0.7 7.7 0.5 3.0 0.3 2.6 0.5 3.6 0.4 6.2 0.9 7.7 0.5 8.3 0.4 3.3 0.5 5.6 0.7 5.8 0.7 3.2 0.9 5.1 0.8 2.7 0.8 4.2 0.8 8.5 0.7 4.6 0.3 3.9 0.8 3.7 0.7 6.9 0.7 3.9 0.4 3.2 0.9 5.4 0.7 6.8 0.4" stroke-opacity="0.85"/>
<path d="M163.60,167.8L164.16,164.30L164.64,164.30L165.20,167.8ZM168.80,167.8L169.43,158.20L169.97,158.20L170.60,167.8ZM171.80,167.8L172.36,161.80L172.84,161.80L173.40,167.8ZM180.35,167.8L180.98,162.80L181.52,162.80L182.15,167.8ZM248.60,167.8L249.70,158.30L250.30,158.30L251.40,167.8ZM248.00,167.8L249.00,160.80L249.60,160.80L250.60,167.8ZM250.00,167.8L251.00,161.80L251.60,161.80L252.60,167.8ZM251.50,167.8L252.20,164.80L252.80,164.80L253.50,167.8ZM284.20,167.8L284.76,163.80L285.24,163.80L285.80,167.8ZM361.20,167.8L361.76,165.80L362.24,165.80L362.80,167.8ZM164.00,167.8L164.00,166.93L164.50,166.93L164.60,166.96L165.10,166.96L165.20,166.40L165.70,166.40L165.80,166.89L166.30,166.89L166.40,166.32L166.90,166.32L167.00,166.73L167.50,166.73L167.60,166.49L168.10,166.49L168.20,166.88L168.70,166.88L168.80,166.44L169.30,166.44L169.40,166.81L169.90,166.81L170.00,166.73L170.50,166.73L170.60,166.62L171.10,166.62L171.20,166.90L171.70,166.90L171.80,166.81L172.30,166.81L172.40,166.44L172.90,166.44L173.00,166.78L173.50,166.78L173.60,166.72L174.10,166.72L174.00,167.8ZM121.3,167.8h1.2v-0.31h-1.2ZM123.3,167.8h0.6v-0.24h-0.6ZM126.3,167.8h0.9v-0.15h-0.9ZM130.3,167.8h0.8v-0.14h-0.8ZM134.3,167.8h1.1v-0.18h-1.1ZM139.3,167.8h0.9v-0.38h-0.9ZM144.3,167.8h1.2v-0.19h-1.2ZM147.3,167.8h0.8v-0.25h-0.8ZM151.3,167.8h0.9v-0.40h-0.9ZM153.3,167.8h0.9v-0.30h-0.9ZM154.3,167.8h1.1v-0.25h-1.1ZM171.3,167.8h0.5v-0.18h-0.5ZM180.3,167.8h0.7v-0.39h-0.7ZM198.3,167.8h0.6v-0.22h-0.6ZM200.3,167.8h0.7v-0.29h-0.7ZM213.3,167.8h0.6v-0.19h-0.6ZM224.3,167.8h0.6v-0.38h-0.6ZM225.3,167.8h0.7v-0.20h-0.7ZM234.3,167.8h1.0v-0.19h-1.0ZM240.3,167.8h1.0v-0.37h-1.0ZM248.3,167.8h1.0v-0.33h-1.0ZM252.3,167.8h1.0v-0.25h-1.0ZM274.3,167.8h0.8v-0.16h-0.8ZM276.3,167.8h1.3v-0.28h-1.3ZM283.3,167.8h0.6v-0.31h-0.6ZM302.3,167.8h1.1v-0.27h-1.1ZM304.3,167.8h0.6v-0.12h-0.6ZM306.3,167.8h0.7v-0.18h-0.7ZM309.3,167.8h1.2v-0.15h-1.2ZM318.3,167.8h0.6v-0.14h-0.6ZM319.3,167.8h1.1v-0.29h-1.1ZM328.3,167.8h1.1v-0.16h-1.1ZM334.3,167.8h0.7v-0.28h-0.7ZM339.3,167.8h1.0v-0.31h-1.0ZM343.3,167.8h0.7v-0.30h-0.7ZM348.3,167.8h0.7v-0.32h-0.7Z" fill="#3b3b98"/>
<line x1="112.30" y1="179.10" x2="363.30" y2="179.10" stroke="#333" stroke-width="0.8" stroke-dasharray="9.7 0.8 4.8 0.5 7.9 0.3 7.1 0.4 2.9 0.6 3.6 0.9 9.1 0.6 4.0 0.4 6.3 0.6 5.2 0.7 6.5 0.8 3.3 0.3 5.4 0.6 4.4 0.7 4.2 0.5 6.1 0.7 8.3 0.5 5.9 0.9 9.5 0.7 3.3 0.6 7.3 0.5 2.8 0.9 9.3 0.4 6.0 0.7 4.7 0.3 8.1 0.8 5.8 0.4 5.5 0.4 9.7 0.3 4.7 0.8 3.5 0.4 3.0 0.4 6.5 0.8 3.8 0.4 8.2 0.6 5.0 0.4 4.3 0.9 3.4 0.5 8.1 0.8 9.3 0.6 9.7 0.7" stroke-opacity="0.85"/>
<path d="M164.70,179.2L165.26,175.70L165.74,175.70L166.30,179.2ZM169.20,179.2L169.76,175.90L170.24,175.90L170.80,179.2ZM171.70,179.2L172.26,175.20L172.74,175.20L173.30,179.2ZM180.40,179.2L181.03,174.20L181.57,174.20L182.20,179.2ZM248.40,179.2L249.70,168.20L250.30,168.20L251.60,179.2ZM247.50,179.2L248.70,171.20L249.30,171.20L250.50,179.2ZM250.10,179.2L251.20,170.20L251.80,170.20L252.90,179.2ZM251.80,179.2L252.50,175.20L253.10,175.20L253.80,179.2ZM284.10,179.2L284.73,177.20L285.27,177.20L285.90,179.2ZM328.10,179.2L328.73,176.20L329.27,176.20L329.90,179.2ZM353.10,179.2L353.73,176.20L354.27,176.20L354.90,179.2ZM163.00,179.2L163.00,177.30L163.50,177.30L163.60,177.07L164.10,177.07L164.20,176.76L164.70,176.76L164.80,176.74L165.30,176.74L165.40,177.50L165.90,177.50L166.00,177.42L166.50,177.42L166.60,176.45L167.10,176.45L167.20,177.53L167.70,177.53L167.80,176.64L168.30,176.64L168.40,177.23L168.90,177.23L169.00,177.35L169.50,177.35L169.60,177.34L170.10,177.34L170.20,177.07L170.70,177.07L170.80,176.41L171.30,176.41L171.40,177.47L171.90,177.47L172.00,176.58L172.50,176.58L172.60,177.26L173.10,177.26L173.20,177.44L173.70,177.44L173.80,176.72L174.30,176.72L174.40,177.23L174.90,177.23L175.00,177.42L175.50,177.42L175.00,179.2ZM250.00,179.2L250.00,178.31L250.50,178.31L250.60,178.10L251.10,178.10L251.20,178.07L251.70,178.07L251.80,178.23L252.30,178.23L252.40,178.53L252.90,178.53L253.00,178.13L253.50,178.13L253.60,178.21L254.10,178.21L254.20,178.05L254.70,178.05L254.80,178.03L255.30,178.03L255.40,178.36L255.90,178.36L256.00,178.08L256.50,178.08L256.60,178.10L257.10,178.10L257.20,178.40L257.70,178.40L257.80,178.34L258.30,178.34L258.40,178.34L258.90,178.34L259.00,178.35L259.50,178.35L259.60,178.34L260.10,178.34L260.00,179.2ZM280.00,179.2L280.00,178.30L280.50,178.30L280.60,178.22L281.10,178.22L281.20,177.76L281.70,177.76L281.80,178.10L282.30,178.10L282.40,177.95L282.90,177.95L283.00,177.78L283.50,177.78L283.60,177.86L284.10,177.86L284.20,178.21L284.70,178.21L284.80,177.75L285.30,177.75L285.40,177.83L285.90,177.83L286.00,177.71L286.50,177.71L286.60,177.88L287.10,177.88L287.20,177.87L287.70,177.87L287.80,177.83L288.30,177.83L288.40,178.20L288.90,178.20L289.00,177.93L289.50,177.93L289.60,178.12L290.10,178.12L290.20,177.81L290.70,177.81L290.80,178.28L291.30,178.28L291.40,178.01L291.90,178.01L292.00,178.15L292.50,178.15L292.60,177.82L293.10,177.82L293.20,178.14L293.70,178.14L293.80,177.81L294.30,177.81L294.40,177.80L294.90,177.80L295.00,177.78L295.50,177.78L295.60,178.28L296.10,178.28L296.20,177.74L296.70,177.74L296.80,177.87L297.30,177.87L297.40,177.92L297.90,177.92L298.00,177.93L298.50,177.93L298.60,178.34L299.10,178.34L299.20,177.79L299.70,177.79L299.80,178.01L300.30,178.01L300.00,179.2ZM120.3,179.2h0.5v-0.53h-0.5ZM123.3,179.2h1.1v-0.35h-1.1ZM138.3,179.2h1.2v-0.71h-1.2ZM151.3,179.2h0.8v-0.71h-0.8ZM154.3,179.2h1.2v-0.67h-1.2ZM188.3,179.2h1.2v-0.65h-1.2ZM204.3,179.2h0.8v-0.30h-0.8ZM222.3,179.2h0.9v-0.96h-0.9ZM223.3,179.2h1.1v-0.35h-1.1ZM239.3,179.2h0.8v-0.44h-0.8ZM252.3,179.2h1.3v-0.79h-1.3ZM262.3,179.2h1.1v-0.89h-1.1ZM284.3,179.2h1.1v-0.93h-1.1ZM285.3,179.2h0.9v-0.53h-0.9ZM309.3,179.2h0.5v-0.44h-0.5ZM313.3,179.2h1.1v-0.48h-1.1ZM319.3,179.2h0.8v-0.95h-0.8ZM324.3,179.2h1.1v-0.91h-1.1ZM327.3,179.2h0.6v-0.34h-0.6ZM328.3,179.2h1.0v-0.80h-1.0ZM329.3,179.2h0.6v-0.41h-0.6ZM347.3,179.2h1.0v-0.67h-1.0ZM348.3,179.2h1.1v-0.61h-1.1Z" fill="#1e1e1e"/>
<line x1="112.30" y1="190.70" x2="363.30" y2="190.70" stroke="#333" stroke-width="0.8" stroke-dasharray="0.4 3.0 1.0 2.4 0.4 3.0 0.7 2.7 0.9 2.9 0.7 3.4 1.2 3.3 0.9 1.9 0.7 1.8 1.1 3.0 1.0 3.1 1.2 2.8 0.7 2.9 0.6 2.6 0.5 3.2 0.8 1.8 1.1 1.4 1.1 2.9 0.5 3.0 0.9 3.3 0.9 2.2 1.1 1.4 1.0 1.4 0.6 1.5 1.1 2.2 1.0 1.8 1.0 2.7 0.5 2.3 1.0 1.7 0.9 1.8 0.7 3.3 1.2 3.5 0.7 2.5 1.0 2.9 0.8 3.2 0.7 3.4 0.8 1.5 1.0 1.5 0.9 1.3 1.2 2.4 1.0 1.5 0.9 2.1 0.6 3.1 0.4 2.3 0.5 3.2 1.1 1.3 0.8 2.3 1.0 2.9 0.7 3.3 0.5 1.5 1.1 1.5 0.5 2.4 0.7 1.6 1.1 2.3 1.0 1.8 1.1 1.7 1.1 2.6 1.2 3.0 0.9 2.4 1.1 2.2 0.5 3.3 1.0 2.8 1.0 1.7 0.8 3.1 1.2 3.3 0.5 2.8 0.8 2.1 0.5 1.5 0.8 2.3 0.6 2.0 0.8 3.0 0.9 1.6 1.1 2.0 1.2 3.5 0.5 2.5 1.2 2.1 0.8 1.9 0.4 1.7 0.5 1.9 0.9 2.5 1.2 2.8" stroke-opacity="0.85"/>
<path d="M153.60,190.8L154.16,189.50L154.64,189.50L155.20,190.8ZM164.10,190.8L164.73,184.30L165.27,184.30L165.90,190.8ZM167.60,190.8L168.23,185.30L168.77,185.30L169.40,190.8ZM172.60,190.8L173.23,183.30L173.77,183.30L174.40,190.8ZM181.10,190.8L181.73,182.30L182.27,182.30L182.90,190.8ZM178.20,190.8L178.76,184.80L179.24,184.80L179.80,190.8ZM193.90,190.8L194.53,185.30L195.07,185.30L195.70,190.8ZM212.60,190.8L213.23,184.80L213.77,184.80L214.40,190.8ZM231.50,190.8L232.06,186.80L232.54,186.80L233.10,190.8ZM247.50,190.8L248.20,179.80L248.80,179.80L249.50,190.8ZM268.30,190.8L268.93,184.80L269.47,184.80L270.10,190.8ZM272.90,190.8L273.53,183.30L274.07,183.30L274.70,190.8ZM284.40,190.8L285.10,181.80L285.70,181.80L286.40,190.8ZM326.10,190.8L326.73,183.80L327.27,183.80L327.90,190.8ZM330.60,190.8L331.23,184.80L331.77,184.80L332.40,190.8ZM353.70,190.8L354.33,185.80L354.87,185.80L355.50,190.8ZM159.60,190.8L159.60,189.37L160.10,189.37L160.20,188.85L160.70,188.85L160.80,189.13L161.30,189.13L161.40,189.21L161.90,189.21L161.50,190.8ZM162.50,190.8L162.50,185.79L163.00,185.79L163.10,186.48L163.60,186.48L163.70,187.59L164.20,187.59L164.30,186.71L164.80,186.71L164.90,187.80L165.40,187.80L165.50,185.41L166.00,185.41L166.10,188.00L166.60,188.00L166.70,185.40L167.20,185.40L167.30,188.64L167.80,188.64L167.90,188.84L168.40,188.84L168.50,186.90L169.00,186.90L169.10,188.14L169.60,188.14L169.70,187.06L170.20,187.06L170.30,188.45L170.80,188.45L170.90,185.88L171.40,185.88L171.50,186.48L172.00,186.48L172.10,186.43L172.60,186.43L172.70,185.56L173.20,185.56L173.30,185.33L173.80,185.33L173.90,186.45L174.40,186.45L174.50,186.33L175.00,186.33L174.50,190.8ZM175.50,190.8L175.50,190.25L176.00,190.25L176.10,190.23L176.60,190.23L176.70,190.06L177.20,190.06L177.30,189.81L177.80,189.81L177.90,190.11L178.40,190.11L178.00,190.8ZM178.00,190.8L178.00,186.12L178.50,186.12L178.60,188.49L179.10,188.49L179.20,186.77L179.70,186.77L179.80,184.71L180.30,184.71L180.40,186.03L180.90,186.03L181.00,185.04L181.50,185.04L181.60,188.47L182.10,188.47L182.20,187.67L182.70,187.67L182.80,187.77L183.30,187.77L183.40,185.01L183.90,185.01L184.00,188.10L184.50,188.10L184.60,184.59L185.10,184.59L185.20,187.40L185.70,187.40L185.80,184.80L186.30,184.80L186.00,190.8ZM188.50,190.8L188.50,186.50L189.00,186.50L189.10,186.97L189.60,186.97L189.70,185.38L190.20,185.38L190.30,186.77L190.80,186.77L190.50,190.8ZM194.50,190.8L194.50,186.05L195.00,186.05L195.10,187.61L195.60,187.61L195.70,185.72L196.20,185.72L196.00,190.8ZM198.00,190.8L198.00,188.33L198.50,188.33L198.60,189.86L199.10,189.86L199.20,188.74L199.70,188.74L199.80,189.58L200.30,189.58L200.40,189.79L200.90,189.79L201.00,189.41L201.50,189.41L201.60,188.89L202.10,188.89L202.20,188.38L202.70,188.38L202.80,188.31L203.30,188.31L203.40,188.31L203.90,188.31L204.00,188.96L204.50,188.96L204.60,188.91L205.10,188.91L205.20,189.77L205.70,189.77L205.80,188.78L206.30,188.78L206.00,190.8ZM207.00,190.8L207.00,187.71L207.50,187.71L207.60,188.32L208.10,188.32L208.20,186.61L208.70,186.61L208.80,188.65L209.30,188.65L209.40,189.00L209.90,189.00L210.00,188.95L210.50,188.95L210.60,188.98L211.10,188.98L211.20,187.60L211.70,187.60L211.80,186.93L212.30,186.93L212.40,188.95L212.90,188.95L213.00,187.87L213.50,187.87L213.60,187.64L214.10,187.64L214.20,187.68L214.70,187.68L214.80,188.15L215.30,188.15L215.40,187.74L215.90,187.74L216.00,189.40L216.50,189.40L216.00,190.8ZM217.00,190.8L217.00,189.61L217.50,189.61L217.60,188.71L218.10,188.71L218.20,189.17L218.70,189.17L218.80,187.90L219.30,187.90L219.40,189.16L219.90,189.16L220.00,187.73L220.50,187.73L220.60,189.16L221.10,189.16L221.20,189.52L221.70,189.52L221.80,188.58L222.30,188.58L222.00,190.8ZM224.00,190.8L224.00,189.71L224.50,189.71L224.60,189.75L225.10,189.75L225.00,190.8ZM230.00,190.8L230.00,189.01L230.50,189.01L230.60,189.50L231.10,189.50L231.20,189.10L231.70,189.10L231.80,188.95L232.30,188.95L232.40,189.29L232.90,189.29L233.00,189.25L233.50,189.25L233.00,190.8ZM252.00,190.8L252.00,188.87L252.50,188.87L252.60,189.16L253.10,189.16L253.20,189.54L253.70,189.54L253.80,189.64L254.30,189.64L254.00,190.8ZM257.00,190.8L257.00,190.26L257.50,190.26L257.60,190.00L258.10,190.00L258.20,190.26L258.70,190.26L258.80,189.67L259.30,189.67L259.40,189.91L259.90,189.91L260.00,190.03L260.50,190.03L260.60,189.81L261.10,189.81L261.20,189.37L261.70,189.37L261.80,190.09L262.30,190.09L262.00,190.8ZM267.00,190.8L267.00,188.60L267.50,188.60L267.60,187.93L268.10,187.93L268.20,187.84L268.70,187.84L268.80,185.21L269.30,185.21L269.40,186.12L269.90,186.12L270.00,187.37L270.50,187.37L270.60,188.55L271.10,188.55L271.20,189.10L271.70,189.10L271.80,188.75L272.30,188.75L272.40,185.49L272.90,185.49L273.00,186.38L273.50,186.38L273.60,188.60L274.10,188.60L274.20,186.49L274.70,186.49L274.80,189.04L275.30,189.04L275.40,187.02L275.90,187.02L276.00,190.8ZM277.30,190.8L277.30,187.06L277.80,187.06L277.90,188.20L278.40,188.20L278.50,185.06L279.00,185.06L279.10,185.19L279.60,185.19L279.70,186.20L280.20,186.20L280.30,187.88L280.80,187.88L280.90,185.42L281.40,185.42L281.50,186.58L282.00,186.58L282.10,185.46L282.60,185.46L282.70,188.25L283.20,188.25L283.30,184.28L283.80,184.28L283.90,188.68L284.40,188.68L284.50,187.61L285.00,187.61L285.10,186.75L285.60,186.75L285.70,187.73L286.20,187.73L286.30,188.27L286.80,188.27L286.90,185.33L287.40,185.33L287.50,183.83L288.00,183.83L288.10,187.06L288.60,187.06L288.70,187.40L289.20,187.40L289.30,185.41L289.80,185.41L289.90,187.61L290.40,187.61L290.50,186.74L291.00,186.74L291.10,185.33L291.60,185.33L291.70,186.59L292.20,186.59L292.30,187.94L292.80,187.94L292.90,188.35L293.40,188.35L293.50,186.04L294.00,186.04L294.10,183.85L294.60,183.85L294.70,184.19L295.20,184.19L295.00,190.8ZM295.00,190.8L295.00,189.51L295.50,189.51L295.60,188.52L296.10,188.52L296.20,188.55L296.70,188.55L296.80,189.27L297.30,189.27L297.40,188.11L297.90,188.11L298.00,188.54L298.50,188.54L298.60,187.77L299.10,187.77L299.20,189.03L299.70,189.03L299.80,187.46L300.30,187.46L300.40,187.75L300.90,187.75L301.00,188.59L301.50,188.59L301.60,189.40L302.10,189.40L302.20,188.56L302.70,188.56L302.80,189.44L303.30,189.44L303.40,188.07L303.90,188.07L304.00,188.04L304.50,188.04L304.60,188.33L305.10,188.33L305.00,190.8ZM315.40,190.8L315.40,187.36L315.90,187.36L316.00,189.81L316.50,189.81L316.60,188.05L317.10,188.05L317.20,187.82L317.70,187.82L317.80,189.63L318.30,189.63L318.40,189.08L318.90,189.08L319.00,189.78L319.50,189.78L319.60,188.39L320.10,188.39L320.20,188.03L320.70,188.03L320.80,189.01L321.30,189.01L321.40,188.10L321.90,188.10L322.00,190.8ZM322.00,190.8L322.00,188.02L322.50,188.02L322.60,186.81L323.10,186.81L323.20,188.33L323.70,188.33L323.80,185.88L324.30,185.88L324.40,187.77L324.90,187.77L325.00,189.29L325.50,189.29L325.60,188.98L326.10,188.98L326.20,186.76L326.70,186.76L326.80,186.27L327.30,186.27L327.40,187.07L327.90,187.07L328.00,188.76L328.50,188.76L328.60,186.25L329.10,186.25L329.20,186.79L329.70,186.79L329.80,188.90L330.30,188.90L330.40,187.97L330.90,187.97L331.00,186.95L331.50,186.95L331.60,189.29L332.10,189.29L332.20,189.15L332.70,189.15L332.80,188.06L333.30,188.06L333.40,186.24L333.90,186.24L334.00,185.81L334.50,185.81L334.60,188.19L335.10,188.19L335.20,186.12L335.70,186.12L335.80,186.55L336.30,186.55L336.40,186.27L336.90,186.27L337.00,187.24L337.50,187.24L337.60,185.91L338.10,185.91L338.20,187.05L338.70,187.05L338.50,190.8ZM342.00,190.8L342.00,188.87L342.50,188.87L342.60,189.41L343.10,189.41L343.20,189.92L343.70,189.92L343.80,189.47L344.30,189.47L344.40,189.52L344.90,189.52L345.00,189.73L345.50,189.73L345.60,189.68L346.10,189.68L346.20,189.49L346.70,189.49L346.80,189.38L347.30,189.38L347.40,189.89L347.90,189.89L347.70,190.8ZM350.00,190.8L350.00,188.58L350.50,188.58L350.60,187.87L351.10,187.87L351.20,187.86L351.70,187.86L351.80,188.13L352.30,188.13L352.40,187.36L352.90,187.36L353.00,188.87L353.50,188.87L353.60,187.77L354.10,187.77L354.20,188.58L354.70,188.58L354.80,187.02L355.30,187.02L355.40,187.23L355.90,187.23L356.00,186.99L356.50,186.99L356.60,187.82L357.10,187.82L357.00,190.8ZM137.3,190.8h0.5v-0.39h-0.5ZM145.3,190.8h1.1v-0.60h-1.1ZM170.3,190.8h0.9v-0.65h-0.9ZM174.3,190.8h0.8v-0.40h-0.8ZM175.3,190.8h1.1v-0.39h-1.1ZM180.3,190.8h1.0v-0.54h-1.0ZM189.3,190.8h1.0v-0.37h-1.0ZM198.3,190.8h0.7v-0.69h-0.7ZM203.3,190.8h1.1v-0.60h-1.1ZM208.3,190.8h0.7v-0.40h-0.7ZM215.3,190.8h1.1v-0.34h-1.1ZM218.3,190.8h0.7v-0.44h-0.7ZM219.3,190.8h0.6v-0.26h-0.6ZM239.3,190.8h0.8v-0.68h-0.8ZM240.3,190.8h0.9v-0.53h-0.9ZM260.3,190.8h1.3v-0.32h-1.3ZM297.3,190.8h0.5v-0.51h-0.5ZM306.3,190.8h0.9v-0.65h-0.9ZM314.3,190.8h0.6v-0.37h-0.6ZM315.3,190.8h0.6v-0.52h-0.6ZM330.3,190.8h0.9v-0.66h-0.9ZM352.3,190.8h1.1v-0.58h-1.1Z" fill="#1e1e1e"/>
<line x1="112.30" y1="202.95" x2="363.30" y2="202.95" stroke="#555" stroke-width="0.7" stroke-dasharray="0.8 2.4 1.0 1.7 1.0 2.0 1.0 1.4 0.6 2.7 0.8 2.1 0.9 1.7 0.7 1.2 1.0 1.8 1.1 2.5 0.9 2.6 0.5 3.0 0.6 3.2 1.0 2.8 1.1 2.2 0.9 3.4 0.6 1.4 0.7 2.4 0.5 1.7 1.1 2.1 0.5 1.6 0.9 1.6 0.8 2.4 0.8 2.4 1.1 1.2 1.1 1.7 0.4 3.0 0.9 2.4 0.6 3.0 0.6 2.9 0.6 2.5 0.9 2.1 0.8 1.4 0.9 2.8 0.5 2.5 1.0 1.4 1.1 3.2 0.4 1.8 0.5 1.8 0.5 2.3 0.6 1.9 0.8 2.1 1.0 2.9 0.5 1.7 0.4 2.0 0.5 2.8 1.0 3.5 0.6 1.3 1.0 2.1 1.1 2.1 0.6 1.4 1.2 2.4 0.8 2.2 1.0 3.1 0.8 1.6 0.7 3.3 0.7 2.7 0.8 2.3 0.9 1.8 0.8 3.2 0.5 2.0 1.1 3.4 0.4 2.6 0.9 3.1 0.8 1.5 0.6 2.8 1.0 1.7 0.9 2.7 0.9 1.3 0.8 1.9 0.9 2.0 0.5 2.7 0.6 3.0 0.6 2.5 1.0 1.5 1.0 1.4 1.1 1.3 1.0 2.0 0.5 2.1 0.8 2.2 0.5 2.4 0.6 3.4 0.7 2.2 0.6 3.4 0.7 2.7 1.1 2.1" stroke-opacity="0.85"/>
<path d="M182.90,203.0L183.46,200.50L183.94,200.50L184.50,203.0ZM171.70,203.0L172.26,202.00L172.74,202.00L173.30,203.0ZM248.60,203.0L249.70,193.80L250.30,193.80L251.40,203.0ZM250.30,203.0L251.20,197.00L251.80,197.00L252.70,203.0ZM270.20,203.0L270.76,199.50L271.24,199.50L271.80,203.0ZM272.20,203.0L272.76,198.50L273.24,198.50L273.80,203.0ZM274.70,203.0L275.26,199.50L275.74,199.50L276.30,203.0ZM283.40,203.0L283.96,200.50L284.44,200.50L285.00,203.0ZM299.10,203.0L299.73,196.50L300.27,196.50L300.90,203.0ZM302.30,203.0L302.93,193.80L303.47,193.80L304.10,203.0ZM300.30,203.0L301.20,199.00L301.80,199.00L302.70,203.0ZM316.90,203.0L317.46,201.50L317.94,201.50L318.50,203.0ZM327.20,203.0L327.76,200.50L328.24,200.50L328.80,203.0ZM332.60,203.0L333.23,197.00L333.77,197.00L334.40,203.0ZM334.00,203.0L334.70,191.50L335.30,191.50L336.00,203.0ZM335.90,203.0L336.53,195.00L337.07,195.00L337.70,203.0ZM337.70,203.0L338.26,200.00L338.74,200.00L339.30,203.0ZM342.20,203.0L342.76,200.00L343.24,200.00L343.80,203.0ZM352.70,203.0L353.26,198.50L353.74,198.50L354.30,203.0ZM114.3,203.0h0.9v-0.16h-0.9ZM128.3,203.0h1.2v-0.31h-1.2ZM132.3,203.0h0.6v-0.47h-0.6ZM135.3,203.0h0.6v-0.28h-0.6ZM137.3,203.0h0.7v-0.20h-0.7ZM138.3,203.0h0.7v-0.18h-0.7ZM146.3,203.0h0.6v-0.41h-0.6ZM151.3,203.0h1.1v-0.17h-1.1ZM163.3,203.0h0.9v-0.43h-0.9ZM165.3,203.0h0.9v-0.33h-0.9ZM183.3,203.0h0.6v-0.45h-0.6ZM189.3,203.0h0.6v-0.38h-0.6ZM193.3,203.0h1.3v-0.22h-1.3ZM230.3,203.0h1.1v-0.20h-1.1ZM238.3,203.0h0.8v-0.30h-0.8ZM239.3,203.0h0.8v-0.45h-0.8ZM240.3,203.0h0.7v-0.49h-0.7ZM242.3,203.0h1.1v-0.18h-1.1ZM253.3,203.0h1.1v-0.40h-1.1ZM273.3,203.0h1.1v-0.27h-1.1ZM283.3,203.0h1.1v-0.37h-1.1ZM299.3,203.0h0.5v-0.31h-0.5ZM318.3,203.0h0.5v-0.18h-0.5ZM326.3,203.0h0.7v-0.28h-0.7ZM328.3,203.0h0.8v-0.34h-0.8ZM331.3,203.0h1.1v-0.41h-1.1ZM333.3,203.0h1.2v-0.36h-1.2ZM336.3,203.0h1.0v-0.46h-1.0ZM354.3,203.0h0.9v-0.31h-0.9Z" fill="#222"/>
<line x1="112.30" y1="214.15" x2="363.30" y2="214.15" stroke="#555" stroke-width="0.7" stroke-dasharray="0.4 1.9 1.1 1.3 1.0 1.3 0.9 3.0 0.6 2.1 0.6 2.8 0.8 2.6 0.7 2.5 1.2 3.0 1.2 1.8 0.8 2.1 0.7 3.0 0.5 2.5 1.0 3.4 0.4 1.8 0.8 3.4 0.5 3.1 0.7 2.5 1.1 1.3 0.7 1.6 0.5 1.9 1.0 2.5 0.5 3.0 0.8 1.5 1.1 3.1 0.6 3.4 1.0 1.7 0.4 3.2 1.1 1.4 1.0 3.0 0.9 3.1 1.2 2.0 1.1 3.3 0.7 2.8 0.9 3.2 0.9 1.8 0.6 2.4 0.5 3.2 1.1 1.8 1.0 2.7 0.5 3.0 1.0 1.9 0.5 1.8 1.0 2.3 1.1 1.6 0.5 2.0 1.1 1.6 0.5 2.9 0.5 2.7 0.5 1.8 0.9 3.2 0.7 2.2 0.4 2.0 0.6 3.0 1.0 3.0 0.8 2.8 0.5 2.1 0.6 1.8 1.0 1.7 0.7 1.8 1.1 2.7 0.8 2.1 1.1 3.4 0.8 2.5 1.1 1.8 0.6 1.4 0.8 3.0 0.5 2.2 1.2 2.3 0.7 3.1 1.1 2.1 0.5 2.7 1.0 3.3 0.9 1.9 0.8 1.9 0.8 2.3 1.1 3.3 1.1 2.3 1.2 1.5 1.1 2.7 1.1 2.2 1.2 1.3" stroke-opacity="0.85"/>
<path d="M171.80,214.2L172.43,205.00L172.97,205.00L173.60,214.2ZM182.80,214.2L183.43,200.70L183.97,200.70L184.60,214.2ZM170.70,214.2L171.26,212.20L171.74,212.20L172.30,214.2ZM184.20,214.2L184.76,211.70L185.24,211.70L185.80,214.2ZM212.70,214.2L213.26,212.70L213.74,212.70L214.30,214.2ZM248.80,214.2L249.70,204.90L250.30,204.90L251.20,214.2ZM250.30,214.2L251.00,209.20L251.60,209.20L252.30,214.2ZM270.20,214.2L270.76,210.20L271.24,210.20L271.80,214.2ZM272.20,214.2L272.76,209.20L273.24,209.20L273.80,214.2ZM274.70,214.2L275.26,210.20L275.74,210.20L276.30,214.2ZM299.10,214.2L299.73,209.20L300.27,209.20L300.90,214.2ZM302.10,214.2L302.73,209.20L303.27,209.20L303.90,214.2ZM327.20,214.2L327.76,212.20L328.24,212.20L328.80,214.2ZM332.60,214.2L333.23,209.20L333.77,209.20L334.40,214.2ZM334.00,214.2L334.70,204.20L335.30,204.20L336.00,214.2ZM336.10,214.2L336.73,207.20L337.27,207.20L337.90,214.2ZM338.00,214.2L338.56,211.20L339.04,211.20L339.60,214.2ZM342.10,214.2L342.73,209.20L343.27,209.20L343.90,214.2ZM353.20,214.2L353.76,209.70L354.24,209.70L354.80,214.2ZM123.3,214.2h0.7v-0.49h-0.7ZM131.3,214.2h0.9v-0.17h-0.9ZM150.3,214.2h0.8v-0.21h-0.8ZM158.3,214.2h1.0v-0.17h-1.0ZM164.3,214.2h1.0v-0.34h-1.0ZM166.3,214.2h0.5v-0.32h-0.5ZM188.3,214.2h0.7v-0.27h-0.7ZM190.3,214.2h1.2v-0.31h-1.2ZM205.3,214.2h0.5v-0.46h-0.5ZM215.3,214.2h0.7v-0.42h-0.7ZM217.3,214.2h1.0v-0.24h-1.0ZM230.3,214.2h1.1v-0.27h-1.1ZM234.3,214.2h0.6v-0.41h-0.6ZM235.3,214.2h0.9v-0.24h-0.9ZM246.3,214.2h0.8v-0.27h-0.8ZM250.3,214.2h0.7v-0.44h-0.7ZM251.3,214.2h0.7v-0.46h-0.7ZM253.3,214.2h0.6v-0.28h-0.6ZM271.3,214.2h1.2v-0.47h-1.2ZM272.3,214.2h0.7v-0.40h-0.7ZM284.3,214.2h0.6v-0.25h-0.6ZM289.3,214.2h1.2v-0.37h-1.2ZM304.3,214.2h1.1v-0.45h-1.1ZM307.3,214.2h0.6v-0.49h-0.6ZM314.3,214.2h0.8v-0.48h-0.8ZM320.3,214.2h0.6v-0.32h-0.6ZM327.3,214.2h1.1v-0.40h-1.1ZM329.3,214.2h0.9v-0.47h-0.9ZM333.3,214.2h0.7v-0.47h-0.7ZM334.3,214.2h1.3v-0.20h-1.3ZM344.3,214.2h0.5v-0.30h-0.5ZM346.3,214.2h1.2v-0.48h-1.2ZM348.3,214.2h0.9v-0.39h-0.9Z" fill="#222"/>
<line x1="112.30" y1="225.45" x2="363.30" y2="225.45" stroke="#555" stroke-width="0.7" stroke-dasharray="0.8 3.5 0.6 1.2 0.7 1.9 0.5 2.2 0.4 3.3 0.8 3.2 1.0 2.9 1.0 1.9 1.0 1.7 0.8 2.6 1.0 1.6 0.7 3.1 1.0 3.4 0.5 1.7 0.5 2.9 1.0 2.7 1.0 2.4 0.8 3.3 0.9 2.7 0.9 2.3 1.0 2.5 0.5 2.2 0.7 2.2 0.8 2.0 0.7 2.2 0.7 3.4 0.5 1.2 1.0 2.1 0.8 2.6 0.7 1.8 0.4 3.2 1.2 1.9 0.8 1.9 0.4 3.3 1.1 1.8 0.6 2.8 1.0 2.3 0.7 1.7 1.0 3.2 1.1 1.5 0.9 3.5 1.0 2.3 0.5 1.3 1.0 1.4 1.0 2.7 0.8 3.3 1.1 2.6 0.5 2.6 0.7 1.8 1.1 2.9 0.5 1.7 0.7 2.5 0.7 2.2 1.1 1.6 1.0 2.0 1.2 3.4 0.7 2.6 0.5 2.1 0.9 2.7 0.7 1.3 0.5 2.5 0.5 1.9 0.9 3.3 0.8 1.8 0.9 1.8 1.0 1.6 0.6 2.2 1.1 1.6 0.6 1.5 0.6 2.0 0.7 2.9 0.7 2.3 0.7 3.0 1.1 2.2 1.1 1.8 1.2 2.4 0.9 2.1 0.6 1.5 1.1 2.0 1.0 2.3 0.8 1.7 0.5 2.0 0.9 2.4 0.4 2.8" stroke-opacity="0.85"/>
<path d="M248.80,225.5L249.70,220.00L250.30,220.00L251.20,225.5ZM272.20,225.5L272.76,224.00L273.24,224.00L273.80,225.5ZM301.20,225.5L301.76,223.00L302.24,223.00L302.80,225.5ZM317.20,225.5L317.76,223.00L318.24,223.00L318.80,225.5ZM333.90,225.5L334.70,218.00L335.30,218.00L336.10,225.5ZM335.60,225.5L336.23,221.50L336.77,221.50L337.40,225.5ZM113.3,225.5h0.7v-0.14h-0.7ZM126.3,225.5h0.6v-0.10h-0.6ZM136.3,225.5h0.7v-0.30h-0.7ZM138.3,225.5h0.8v-0.23h-0.8ZM141.3,225.5h1.1v-0.13h-1.1ZM147.3,225.5h0.5v-0.30h-0.5ZM160.3,225.5h0.7v-0.13h-0.7ZM167.3,225.5h0.5v-0.26h-0.5ZM176.3,225.5h1.1v-0.23h-1.1ZM190.3,225.5h1.2v-0.16h-1.2ZM197.3,225.5h0.6v-0.14h-0.6ZM202.3,225.5h1.1v-0.24h-1.1ZM231.3,225.5h1.3v-0.13h-1.3ZM232.3,225.5h0.9v-0.26h-0.9ZM237.3,225.5h0.6v-0.28h-0.6ZM244.3,225.5h0.7v-0.09h-0.7ZM271.3,225.5h1.1v-0.28h-1.1ZM281.3,225.5h0.6v-0.12h-0.6ZM286.3,225.5h1.2v-0.28h-1.2ZM296.3,225.5h0.8v-0.12h-0.8ZM304.3,225.5h0.5v-0.15h-0.5ZM317.3,225.5h1.0v-0.19h-1.0ZM328.3,225.5h0.8v-0.09h-0.8ZM331.3,225.5h0.8v-0.27h-0.8ZM339.3,225.5h1.1v-0.20h-1.1ZM342.3,225.5h1.3v-0.17h-1.3ZM346.3,225.5h0.7v-0.29h-0.7ZM355.3,225.5h1.3v-0.18h-1.3ZM362.3,225.5h0.6v-0.28h-0.6Z" fill="#222"/>
<line x1="112.30" y1="236.95" x2="363.30" y2="236.95" stroke="#555" stroke-width="0.7" stroke-dasharray="1.0 2.0 0.5 1.4 1.2 3.0 0.8 3.0 1.2 3.3 0.8 1.8 0.8 3.5 1.0 2.7 1.1 2.1 0.8 3.2 0.6 3.2 0.4 2.4 0.9 1.5 1.1 2.2 0.5 2.1 0.9 2.2 0.4 1.4 1.0 1.5 0.6 3.1 1.1 3.2 0.5 1.2 1.0 2.6 0.7 1.2 0.7 1.7 0.9 3.5 0.6 1.4 1.0 1.4 0.6 2.2 1.2 1.9 0.7 2.3 0.5 2.1 1.0 1.9 1.0 1.6 0.5 2.6 0.8 3.3 0.5 2.9 0.9 2.1 0.5 2.6 1.0 2.3 0.8 2.8 0.9 2.2 0.5 2.3 0.8 3.3 1.2 2.5 0.7 1.7 0.9 2.9 0.6 2.8 1.2 2.1 1.2 2.2 0.9 3.2 0.6 2.0 1.2 1.4 0.6 2.3 1.0 2.7 1.1 2.7 0.4 1.4 0.4 2.2 0.4 2.4 0.9 1.7 1.1 2.2 1.2 2.0 0.9 2.4 0.6 3.0 0.4 1.8 0.7 3.2 0.8 1.3 0.6 2.6 1.0 1.5 1.0 2.1 0.8 2.2 0.8 3.5 1.1 3.3 1.0 2.8 0.5 1.3 1.1 2.7 0.9 1.9 0.6 3.3 0.8 1.2 0.7 2.0 0.5 3.4 1.1 3.1 0.4 2.2 0.5 2.9 1.0 3.0" stroke-opacity="0.85"/>
<path d="M248.90,237.0L249.70,234.00L250.30,234.00L251.10,237.0ZM114.3,237.0h1.2v-0.11h-1.2ZM121.3,237.0h0.8v-0.30h-0.8ZM129.3,237.0h0.7v-0.25h-0.7ZM133.3,237.0h0.6v-0.18h-0.6ZM150.3,237.0h0.7v-0.11h-0.7ZM152.3,237.0h1.1v-0.24h-1.1ZM169.3,237.0h0.9v-0.15h-0.9ZM177.3,237.0h1.1v-0.30h-1.1ZM179.3,237.0h1.0v-0.14h-1.0ZM181.3,237.0h0.5v-0.19h-0.5ZM185.3,237.0h0.7v-0.14h-0.7ZM190.3,237.0h1.1v-0.27h-1.1ZM192.3,237.0h1.2v-0.14h-1.2ZM200.3,237.0h1.0v-0.16h-1.0ZM205.3,237.0h1.2v-0.09h-1.2ZM208.3,237.0h0.6v-0.25h-0.6ZM221.3,237.0h0.6v-0.26h-0.6ZM234.3,237.0h1.2v-0.16h-1.2ZM236.3,237.0h1.0v-0.14h-1.0ZM238.3,237.0h1.0v-0.11h-1.0ZM240.3,237.0h0.7v-0.25h-0.7ZM277.3,237.0h0.9v-0.19h-0.9ZM279.3,237.0h0.6v-0.19h-0.6ZM287.3,237.0h1.3v-0.21h-1.3ZM294.3,237.0h0.7v-0.12h-0.7ZM306.3,237.0h0.9v-0.29h-0.9ZM308.3,237.0h0.8v-0.25h-0.8ZM319.3,237.0h1.1v-0.13h-1.1ZM320.3,237.0h1.1v-0.18h-1.1ZM323.3,237.0h0.8v-0.28h-0.8ZM331.3,237.0h1.2v-0.12h-1.2ZM337.3,237.0h1.2v-0.15h-1.2ZM344.3,237.0h0.6v-0.27h-0.6ZM359.3,237.0h0.9v-0.17h-0.9Z" fill="#222"/>
<line x1="112.30" y1="248.35" x2="141.30" y2="248.35" stroke="#333" stroke-width="0.9"  stroke-opacity="1"/>
<line x1="143.80" y1="248.35" x2="363.30" y2="248.35" stroke="#333" stroke-width="0.9"  stroke-opacity="1"/>
<path d="M180.10,248.5L181.00,245.30L181.60,245.30L182.50,248.5ZM283.80,248.5L284.70,246.50L285.30,246.50L286.20,248.5ZM327.90,248.5L328.53,246.50L329.07,246.50L329.70,248.5ZM353.70,248.5L354.26,246.50L354.74,246.50L355.30,248.5ZM172.70,248.5L173.26,243.30L173.74,243.30L174.30,248.5ZM165.30,248.5L165.79,243.90L166.21,243.90L166.70,248.5ZM163.80,248.5L163.80,245.93L164.30,245.93L164.40,245.23L164.90,245.23L165.00,244.36L165.50,244.36L165.60,244.51L166.10,244.51L166.20,245.34L166.70,245.34L166.80,245.99L167.30,245.99L167.40,245.33L167.90,245.33L168.00,245.21L168.50,245.21L168.60,244.71L169.10,244.71L169.20,245.84L169.70,245.84L169.80,245.66L170.30,245.66L170.40,244.33L170.90,244.33L171.00,246.17L171.50,246.17L171.60,245.04L172.10,245.04L172.20,246.01L172.70,246.01L172.80,244.77L173.30,244.77L173.40,245.39L173.90,245.39L174.00,244.44L174.50,244.44L174.60,245.77L175.10,245.77L175.00,248.5ZM248.00,248.5L248.00,245.67L248.50,245.67L248.60,246.54L249.10,246.54L249.20,246.79L249.70,246.79L249.80,246.73L250.30,246.73L250.40,246.75L250.90,246.75L251.00,246.33L251.50,246.33L251.60,245.54L252.10,245.54L252.20,246.37L252.70,246.37L252.80,245.88L253.30,245.88L253.00,248.5ZM268.80,248.5L268.80,247.71L269.30,247.71L269.40,247.41L269.90,247.41L270.00,247.39L270.50,247.39L270.60,247.67L271.10,247.67L271.20,247.36L271.70,247.36L271.80,247.45L272.30,247.45L272.40,247.52L272.90,247.52L273.00,247.21L273.50,247.21L273.60,247.29L274.10,247.29L274.20,247.65L274.70,247.65L274.80,247.66L275.30,247.66L275.40,247.70L275.90,247.70L276.00,247.56L276.50,247.56L276.60,247.33L277.10,247.33L277.20,247.12L277.70,247.12L277.80,247.12L278.30,247.12L278.40,247.19L278.90,247.19L279.00,247.65L279.50,247.65L279.60,247.23L280.10,247.23L280.20,247.25L280.70,247.25L280.80,247.43L281.30,247.43L281.40,247.10L281.90,247.10L282.00,247.35L282.50,247.35L282.60,247.66L283.10,247.66L283.20,247.59L283.70,247.59L283.80,247.65L284.30,247.65L284.40,247.35L284.90,247.35L285.00,247.34L285.50,247.34L285.60,247.19L286.10,247.19L286.20,247.72L286.70,247.72L286.80,247.72L287.30,247.72L287.40,247.12L287.90,247.12L288.00,247.56L288.50,247.56L288.60,247.56L289.10,247.56L289.20,247.18L289.70,247.18L289.80,247.66L290.30,247.66L290.40,247.23L290.90,247.23L291.00,247.17L291.50,247.17L291.60,247.38L292.10,247.38L292.20,247.35L292.70,247.35L292.80,247.73L293.30,247.73L293.40,247.35L293.90,247.35L294.00,247.34L294.50,247.34L294.60,247.24L295.10,247.24L295.20,247.40L295.70,247.40L295.80,247.66L296.30,247.66L296.40,247.59L296.90,247.59L297.00,247.32L297.50,247.32L297.60,247.68L298.10,247.68L298.20,247.66L298.70,247.66L298.80,247.57L299.30,247.57L299.40,247.23L299.90,247.23L300.00,247.39L300.50,247.39L300.60,247.51L301.10,247.51L301.20,247.12L301.70,247.12L301.80,247.36L302.30,247.36L302.40,247.58L302.90,247.58L303.00,247.37L303.50,247.37L303.60,247.19L304.10,247.19L303.80,248.5ZM122.3,248.5h0.8v-0.13h-0.8ZM140.3,248.5h0.5v-0.15h-0.5ZM151.3,248.5h0.7v-0.09h-0.7ZM152.3,248.5h1.0v-0.15h-1.0ZM162.3,248.5h0.7v-0.11h-0.7ZM168.3,248.5h1.1v-0.06h-1.1ZM172.3,248.5h1.2v-0.12h-1.2ZM174.3,248.5h1.2v-0.08h-1.2ZM182.3,248.5h1.1v-0.12h-1.1ZM187.3,248.5h0.9v-0.07h-0.9ZM191.3,248.5h0.6v-0.14h-0.6ZM195.3,248.5h1.0v-0.15h-1.0ZM198.3,248.5h0.9v-0.18h-0.9ZM201.3,248.5h0.6v-0.16h-0.6ZM217.3,248.5h1.3v-0.10h-1.3ZM221.3,248.5h1.2v-0.13h-1.2ZM223.3,248.5h1.0v-0.16h-1.0ZM238.3,248.5h0.5v-0.11h-0.5ZM257.3,248.5h1.0v-0.18h-1.0ZM261.3,248.5h1.0v-0.11h-1.0ZM273.3,248.5h0.6v-0.11h-0.6ZM280.3,248.5h1.2v-0.18h-1.2ZM281.3,248.5h1.0v-0.19h-1.0ZM289.3,248.5h1.0v-0.17h-1.0ZM291.3,248.5h1.2v-0.07h-1.2ZM297.3,248.5h1.1v-0.14h-1.1ZM317.3,248.5h0.8v-0.07h-0.8ZM318.3,248.5h0.8v-0.19h-0.8ZM334.3,248.5h0.6v-0.19h-0.6ZM336.3,248.5h0.6v-0.15h-0.6ZM351.3,248.5h0.8v-0.15h-0.8Z" fill="#1e1e1e"/>
<line x1="112.30" y1="263.40" x2="363.30" y2="263.40" stroke="#444" stroke-width="0.8" stroke-dasharray="6.7 0.7 7.4 0.6 3.1 0.4 3.6 0.4 3.9 0.7 5.1 0.8 4.3 0.4 3.9 0.4 7.6 0.6 4.4 0.8 7.6 0.6 7.1 0.7 5.8 0.4 5.2 0.9 5.3 0.7 3.2 0.8 9.0 0.5 5.3 0.6 4.4 0.4 3.5 0.7 6.3 0.9 9.7 0.8 9.6 0.8 2.7 0.4 9.8 0.8 7.1 0.7 5.8 0.6 3.6 0.6 4.6 0.4 9.0 0.6 9.1 0.5 6.8 0.5 8.7 0.4 7.4 0.6 4.9 0.3 6.2 0.6 8.6 0.4 3.9 0.5 8.5 0.4" stroke-opacity="0.85"/>
<path d="M180.20,263.5L181.00,261.10L181.60,261.10L182.40,263.5ZM327.90,263.5L328.53,261.50L329.07,261.50L329.70,263.5ZM353.70,263.5L354.26,260.50L354.74,260.50L355.30,263.5ZM172.20,263.5L172.76,257.70L173.24,257.70L173.80,263.5ZM164.80,263.5L165.29,258.70L165.71,258.70L166.20,263.5ZM163.80,263.5L163.80,260.16L164.30,260.16L164.40,261.24L164.90,261.24L165.00,261.15L165.50,261.15L165.60,260.03L166.10,260.03L166.20,260.41L166.70,260.41L166.80,261.10L167.30,261.10L167.40,260.45L167.90,260.45L168.00,259.61L168.50,259.61L168.60,260.60L169.10,260.60L169.20,260.30L169.70,260.30L169.80,260.54L170.30,260.54L170.40,260.39L170.90,260.39L171.00,261.22L171.50,261.22L171.60,259.71L172.10,259.71L172.20,260.26L172.70,260.26L172.80,260.68L173.30,260.68L173.40,260.79L173.90,260.79L174.00,260.96L174.50,260.96L174.60,259.62L175.10,259.62L175.00,263.5ZM248.00,263.5L248.00,259.79L248.50,259.79L248.60,260.62L249.10,260.62L249.20,260.21L249.70,260.21L249.80,260.31L250.30,260.31L250.40,260.94L250.90,260.94L251.00,261.24L251.50,261.24L251.60,259.98L252.10,259.98L252.20,261.01L252.70,261.01L252.80,260.28L253.30,260.28L253.00,263.5ZM112.3,263.5h0.6v-0.06h-0.6ZM118.3,263.5h0.9v-0.19h-0.9ZM120.3,263.5h0.9v-0.18h-0.9ZM123.3,263.5h0.7v-0.14h-0.7ZM152.3,263.5h0.9v-0.06h-0.9ZM153.3,263.5h0.6v-0.18h-0.6ZM168.3,263.5h1.2v-0.16h-1.2ZM172.3,263.5h0.9v-0.07h-0.9ZM195.3,263.5h0.7v-0.19h-0.7ZM199.3,263.5h0.6v-0.09h-0.6ZM202.3,263.5h0.9v-0.10h-0.9ZM209.3,263.5h1.0v-0.13h-1.0ZM210.3,263.5h0.7v-0.14h-0.7ZM219.3,263.5h0.7v-0.12h-0.7ZM239.3,263.5h0.7v-0.19h-0.7ZM240.3,263.5h0.6v-0.17h-0.6ZM242.3,263.5h0.8v-0.08h-0.8ZM243.3,263.5h0.8v-0.13h-0.8ZM262.3,263.5h0.9v-0.18h-0.9ZM272.3,263.5h0.9v-0.15h-0.9ZM278.3,263.5h0.7v-0.13h-0.7ZM289.3,263.5h1.0v-0.19h-1.0ZM290.3,263.5h0.9v-0.13h-0.9ZM295.3,263.5h1.2v-0.17h-1.2ZM300.3,263.5h0.7v-0.18h-0.7ZM323.3,263.5h1.3v-0.12h-1.3ZM326.3,263.5h1.2v-0.10h-1.2ZM327.3,263.5h1.1v-0.17h-1.1ZM336.3,263.5h0.7v-0.06h-0.7ZM337.3,263.5h0.7v-0.18h-0.7ZM344.3,263.5h1.1v-0.18h-1.1ZM355.3,263.5h0.9v-0.07h-0.9Z" fill="#1e1e1e"/>
<line x1="112.30" y1="280.20" x2="363.30" y2="280.20" stroke="#7a7a7a" stroke-width="1.0"  stroke-opacity="1"/>
<path d="M168.90,280.4L169.32,276.40L169.68,276.40L170.10,280.4ZM171.40,280.4L171.82,276.40L172.18,276.40L172.60,280.4ZM249.90,280.4L250.32,274.40L250.68,274.40L251.10,280.4ZM271.90,280.4L272.32,271.40L272.68,271.40L273.10,280.4ZM306.50,280.4L306.85,276.40L307.15,276.40L307.50,280.4ZM336.90,280.4L337.32,278.40L337.68,278.40L338.10,280.4ZM339.40,280.4L339.82,278.40L340.18,278.40L340.60,280.4ZM346.40,280.4L346.82,278.40L347.18,278.40L347.60,280.4ZM358.80,280.4L359.70,268.40L360.30,268.40L361.20,280.4ZM360.50,280.4L361.20,271.40L361.80,271.40L362.50,280.4ZM141.60,280.4L141.88,279.20L142.12,279.20L142.40,280.4ZM201.10,280.4L201.38,279.20L201.62,279.20L201.90,280.4ZM232.10,280.4L232.38,279.20L232.62,279.20L232.90,280.4ZM282.60,280.4L282.88,279.40L283.12,279.40L283.40,280.4ZM321.60,280.4L321.88,279.40L322.12,279.40L322.40,280.4ZM329.60,280.4L329.88,279.20L330.12,279.20L330.40,280.4Z" fill="#1e1e1e"/>
<rect x="154.60" y="248.80" width="40.90" height="3.30" fill="#d8412f" />
<rect x="248.00" y="248.80" width="4.60" height="3.30" fill="#d8412f" />
<rect x="267.60" y="248.80" width="36.30" height="3.30" fill="#d8412f" />
<rect x="164.30" y="263.80" width="18.20" height="3.20" fill="#d8412f" />
<line x1="113.90" y1="286.30" x2="171.50" y2="286.30" stroke="#5050a8" stroke-width="0.7" stroke-dasharray="1.2 0.9"/>
<line x1="122.50" y1="284.80" x2="122.50" y2="287.80" stroke="#5050a8" stroke-width="0.7" />
<line x1="125.50" y1="284.80" x2="125.50" y2="287.80" stroke="#5050a8" stroke-width="0.7" />
<line x1="128.50" y1="284.80" x2="128.50" y2="287.80" stroke="#5050a8" stroke-width="0.7" />
<line x1="172.50" y1="285.00" x2="172.50" y2="287.60" stroke="#5050a8" stroke-width="0.8" />
<polygon points="114.2,286.3 116.2,285.3 116.2,287.3" fill="#5050a8"/>
<text x="152.00" y="292.50" font-size="5.0" fill="#7070b0" stroke="#7070b0" stroke-width="0.05" text-anchor="middle" textLength="23" lengthAdjust="spacingAndGlyphs" >CABC0001</text>
<line x1="169.80" y1="291.30" x2="174.80" y2="291.30" stroke="#cc3333" stroke-width="0.7" />
<line x1="169.80" y1="290.00" x2="169.80" y2="292.60" stroke="#cc3333" stroke-width="0.7" />
<line x1="174.80" y1="290.00" x2="174.80" y2="292.60" stroke="#cc3333" stroke-width="0.7" />
<text x="176.30" y="300.60" font-size="6.2" fill="#c8352e" stroke="#c8352e" stroke-width="0.16" text-anchor="middle" textLength="53.8" lengthAdjust="spacingAndGlyphs" >XLOC_005968 (ARIEL)</text>
<line x1="250.00" y1="285.60" x2="336.60" y2="285.60" stroke="#5050a8" stroke-width="0.6" stroke-dasharray="1.2 0.6"/>
<line x1="250.00" y1="289.90" x2="362.00" y2="289.90" stroke="#2c2c5a" stroke-width="0.8" />
<line x1="336.00" y1="293.70" x2="362.00" y2="293.70" stroke="#5050a8" stroke-width="0.7" stroke-dasharray="1.4 0.6"/>
<line x1="250.30" y1="284.80" x2="250.30" y2="290.80" stroke="#5050a8" stroke-width="0.6" />
<line x1="272.50" y1="284.80" x2="272.50" y2="290.80" stroke="#5050a8" stroke-width="0.6" />
<line x1="307.00" y1="284.80" x2="307.00" y2="290.80" stroke="#5050a8" stroke-width="0.6" />
<line x1="336.60" y1="284.80" x2="336.60" y2="290.80" stroke="#5050a8" stroke-width="0.6" />
<line x1="342.00" y1="284.80" x2="342.00" y2="290.80" stroke="#5050a8" stroke-width="0.6" />
<line x1="347.00" y1="284.80" x2="347.00" y2="290.80" stroke="#5050a8" stroke-width="0.6" />
<polygon points="363.5,289.9 360.5,288.4 360.5,291.4" fill="#222"/>
<polygon points="363.5,293.7 360.5,292.2 360.5,295.2" fill="#5050a8"/>
<text x="237.80" y="291.80" font-size="5.0" fill="#7070b0" stroke="#7070b0" stroke-width="0.05" text-anchor="middle" textLength="12.5" lengthAdjust="spacingAndGlyphs" >ARID5B</text>
<text x="281.00" y="296.40" font-size="4.8" fill="#7070b0" stroke="#7070b0" stroke-width="0.05" text-anchor="middle" textLength="20" lengthAdjust="spacingAndGlyphs" >MIR548AV</text>
<text x="8.00" y="330.00" font-size="12.0" fill="#111" stroke="#111" stroke-width="0.16" >B</text>
<line x1="59.50" y1="343.50" x2="59.50" y2="476.60" stroke="#111" stroke-width="1.0" />
<line x1="55.60" y1="347.00" x2="59.50" y2="347.00" stroke="#111" stroke-width="0.8" />
<text x="53.00" y="349.45" font-size="7.44" fill="#222" stroke="#222" stroke-width="0.16" text-anchor="end" textLength="8.62" lengthAdjust="spacingAndGlyphs" >2.5</text>
<line x1="55.60" y1="365.50" x2="59.50" y2="365.50" stroke="#111" stroke-width="0.8" />
<text x="53.00" y="367.95" font-size="7.44" fill="#222" stroke="#222" stroke-width="0.16" text-anchor="end" textLength="3.45" lengthAdjust="spacingAndGlyphs" >2</text>
<line x1="55.60" y1="384.00" x2="59.50" y2="384.00" stroke="#111" stroke-width="0.8" />
<text x="53.00" y="386.45" font-size="7.44" fill="#222" stroke="#222" stroke-width="0.16" text-anchor="end" textLength="8.62" lengthAdjust="spacingAndGlyphs" >1.5</text>
<line x1="55.60" y1="402.50" x2="59.50" y2="402.50" stroke="#111" stroke-width="0.8" />
<text x="53.00" y="404.95" font-size="7.44" fill="#222" stroke="#222" stroke-width="0.16" text-anchor="end" textLength="3.45" lengthAdjust="spacingAndGlyphs" >1</text>
<line x1="55.60" y1="421.00" x2="59.50" y2="421.00" stroke="#111" stroke-width="0.8" />
<text x="53.00" y="423.45" font-size="7.44" fill="#222" stroke="#222" stroke-width="0.16" text-anchor="end" textLength="8.62" lengthAdjust="spacingAndGlyphs" >0.5</text>
<line x1="55.60" y1="439.50" x2="59.50" y2="439.50" stroke="#111" stroke-width="0.8" />
<text x="53.00" y="441.95" font-size="7.44" fill="#222" stroke="#222" stroke-width="0.16" text-anchor="end" textLength="3.45" lengthAdjust="spacingAndGlyphs" >0</text>
<text x="36.60" y="392.80" font-size="9.0" fill="#222" stroke="#222" stroke-width="0.16" text-anchor="middle" textLength="77.5" lengthAdjust="spacingAndGlyphs" transform="rotate(-90 36.60 392.80)" >Percentage of input</text>
<rect x="69.10" y="348.70" width="3.90" height="3.80" fill="#4c6185" />
<text x="76.70" y="353.00" font-size="6.82" fill="#222" stroke="#222" stroke-width="0.16" textLength="8.27" lengthAdjust="spacingAndGlyphs" >EV</text>
<rect x="69.10" y="357.00" width="3.90" height="3.80" fill="#a2394a" />
<text x="76.70" y="361.30" font-size="6.82" fill="#222" stroke="#222" stroke-width="0.16" textLength="23.09" lengthAdjust="spacingAndGlyphs" >sgRNA1</text>
<rect x="69.10" y="365.10" width="3.90" height="3.80" fill="#78a85a" />
<text x="76.70" y="369.40" font-size="6.82" fill="#222" stroke="#222" stroke-width="0.16" textLength="23.09" lengthAdjust="spacingAndGlyphs" >sgRNA2</text>
<line x1="59.50" y1="439.50" x2="244.00" y2="439.50" stroke="#111" stroke-width="1.0" />
<line x1="120.50" y1="439.50" x2="120.50" y2="476.60" stroke="#444" stroke-width="1.0" />
<line x1="182.00" y1="439.50" x2="182.00" y2="476.60" stroke="#333" stroke-width="1.0" />
<line x1="243.50" y1="439.50" x2="243.50" y2="476.60" stroke="#444" stroke-width="1.0" />
<rect x="95.20" y="437.10" width="6.30" height="1.90" fill="#4c6185" />
<rect x="101.50" y="436.70" width="6.50" height="2.30" fill="#a2394a" />
<rect x="108.00" y="437.70" width="7.40" height="1.30" fill="#78a85a" />
<rect x="157.00" y="434.30" width="6.50" height="4.70" fill="#4c6185" />
<rect x="163.50" y="436.20" width="6.50" height="2.80" fill="#a2394a" />
<rect x="170.00" y="436.00" width="6.80" height="3.00" fill="#78a85a" />
<rect x="218.20" y="370.40" width="6.40" height="68.60" fill="#4c6185" />
<rect x="224.60" y="429.70" width="6.50" height="9.30" fill="#a2394a" />
<rect x="231.10" y="411.20" width="6.90" height="27.80" fill="#78a85a" />
<line x1="221.40" y1="366.50" x2="221.40" y2="373.40" stroke="#1a1a1a" stroke-width="0.8" />
<line x1="219.80" y1="366.50" x2="223.00" y2="366.50" stroke="#1a1a1a" stroke-width="0.8" />
<line x1="219.80" y1="373.40" x2="223.00" y2="373.40" stroke="#1a1a1a" stroke-width="0.8" />
<line x1="234.50" y1="409.60" x2="234.50" y2="413.00" stroke="#1a1a1a" stroke-width="0.8" />
<line x1="233.00" y1="409.60" x2="236.00" y2="409.60" stroke="#1a1a1a" stroke-width="0.8" />
<line x1="233.00" y1="413.00" x2="236.00" y2="413.00" stroke="#1a1a1a" stroke-width="0.8" />
<line x1="227.80" y1="429.20" x2="227.80" y2="430.20" stroke="#1a1a1a" stroke-width="0.8" />
<line x1="226.50" y1="429.20" x2="229.10" y2="429.20" stroke="#1a1a1a" stroke-width="0.8" />
<line x1="226.50" y1="430.20" x2="229.10" y2="430.20" stroke="#1a1a1a" stroke-width="0.8" />
<line x1="98.30" y1="436.20" x2="98.30" y2="437.00" stroke="#1a1a1a" stroke-width="0.8" />
<line x1="97.00" y1="436.20" x2="99.60" y2="436.20" stroke="#1a1a1a" stroke-width="0.8" />
<line x1="97.00" y1="437.00" x2="99.60" y2="437.00" stroke="#1a1a1a" stroke-width="0.8" />
<line x1="104.70" y1="435.80" x2="104.70" y2="436.60" stroke="#1a1a1a" stroke-width="0.8" />
<line x1="103.40" y1="435.80" x2="106.00" y2="435.80" stroke="#1a1a1a" stroke-width="0.8" />
<line x1="103.40" y1="436.60" x2="106.00" y2="436.60" stroke="#1a1a1a" stroke-width="0.8" />
<line x1="111.70" y1="436.80" x2="111.70" y2="437.60" stroke="#1a1a1a" stroke-width="0.8" />
<line x1="110.40" y1="436.80" x2="113.00" y2="436.80" stroke="#1a1a1a" stroke-width="0.8" />
<line x1="110.40" y1="437.60" x2="113.00" y2="437.60" stroke="#1a1a1a" stroke-width="0.8" />
<line x1="160.20" y1="433.40" x2="160.20" y2="434.20" stroke="#1a1a1a" stroke-width="0.8" />
<line x1="158.90" y1="433.40" x2="161.50" y2="433.40" stroke="#1a1a1a" stroke-width="0.8" />
<line x1="158.90" y1="434.20" x2="161.50" y2="434.20" stroke="#1a1a1a" stroke-width="0.8" />
<line x1="166.70" y1="435.30" x2="166.70" y2="436.10" stroke="#1a1a1a" stroke-width="0.8" />
<line x1="165.40" y1="435.30" x2="168.00" y2="435.30" stroke="#1a1a1a" stroke-width="0.8" />
<line x1="165.40" y1="436.10" x2="168.00" y2="436.10" stroke="#1a1a1a" stroke-width="0.8" />
<line x1="173.40" y1="435.10" x2="173.40" y2="435.90" stroke="#1a1a1a" stroke-width="0.8" />
<line x1="172.10" y1="435.10" x2="174.70" y2="435.10" stroke="#1a1a1a" stroke-width="0.8" />
<line x1="172.10" y1="435.90" x2="174.70" y2="435.90" stroke="#1a1a1a" stroke-width="0.8" />
<line x1="219.50" y1="344.50" x2="236.60" y2="344.50" stroke="#1a1a1a" stroke-width="0.9" />
<text x="228.00" y="344.12" font-size="9.0" fill="#1a1a1a" stroke="#1a1a1a" stroke-width="0.16" text-anchor="middle" >**</text>
<line x1="218.40" y1="358.40" x2="228.00" y2="358.40" stroke="#1a1a1a" stroke-width="0.9" />
<text x="223.00" y="358.22" font-size="9.0" fill="#1a1a1a" stroke="#1a1a1a" stroke-width="0.16" text-anchor="middle" >**</text>
<text x="77.30" y="443.50" font-size="7.2" fill="#222" stroke="#222" stroke-width="0.16" text-anchor="end" textLength="9.6" lengthAdjust="spacingAndGlyphs" transform="rotate(-90 77.30 443.50)" >IgG</text>
<text x="106.90" y="443.50" font-size="7.0" fill="#222" stroke="#222" stroke-width="0.16" text-anchor="end" textLength="27.8" lengthAdjust="spacingAndGlyphs" transform="rotate(-90 106.90 443.50)" >H3K4me1</text>
<text x="137.90" y="443.50" font-size="7.2" fill="#222" stroke="#222" stroke-width="0.16" text-anchor="end" textLength="9.6" lengthAdjust="spacingAndGlyphs" transform="rotate(-90 137.90 443.50)" >IgG</text>
<text x="167.90" y="443.50" font-size="7.0" fill="#222" stroke="#222" stroke-width="0.16" text-anchor="end" textLength="27.8" lengthAdjust="spacingAndGlyphs" transform="rotate(-90 167.90 443.50)" >H3K4me1</text>
<text x="199.10" y="443.50" font-size="7.2" fill="#222" stroke="#222" stroke-width="0.16" text-anchor="end" textLength="9.6" lengthAdjust="spacingAndGlyphs" transform="rotate(-90 199.10 443.50)" >IgG</text>
<text x="229.30" y="443.50" font-size="7.0" fill="#222" stroke="#222" stroke-width="0.16" text-anchor="end" textLength="27.8" lengthAdjust="spacingAndGlyphs" transform="rotate(-90 229.30 443.50)" >H3K4me1</text>
<text x="90.00" y="486.25" font-size="7.13" fill="#222" stroke="#222" stroke-width="0.16" text-anchor="middle" textLength="26.05" lengthAdjust="spacingAndGlyphs" >Negative</text>
<text x="90.00" y="494.95" font-size="7.13" fill="#222" stroke="#222" stroke-width="0.16" text-anchor="middle" textLength="21.27" lengthAdjust="spacingAndGlyphs" >Control</text>
<text x="151.30" y="486.25" font-size="7.13" fill="#222" stroke="#222" stroke-width="0.16" text-anchor="middle" textLength="20.18" lengthAdjust="spacingAndGlyphs" >-135kb</text>
<text x="151.30" y="494.95" font-size="7.13" fill="#222" stroke="#222" stroke-width="0.16" text-anchor="middle" textLength="28.25" lengthAdjust="spacingAndGlyphs" >Enhancer</text>
<text x="151.30" y="503.25" font-size="7.13" fill="#222" stroke="#222" stroke-width="0.16" text-anchor="middle" textLength="19.81" lengthAdjust="spacingAndGlyphs" >Center</text>
<text x="213.00" y="486.25" font-size="7.13" fill="#222" stroke="#222" stroke-width="0.16" text-anchor="middle" textLength="20.18" lengthAdjust="spacingAndGlyphs" >-135kb</text>
<text x="213.00" y="494.95" font-size="7.13" fill="#222" stroke="#222" stroke-width="0.16" text-anchor="middle" textLength="28.25" lengthAdjust="spacingAndGlyphs" >Enhancer</text>
<text x="213.00" y="503.25" font-size="7.13" fill="#222" stroke="#222" stroke-width="0.16" text-anchor="middle" textLength="22.21" lengthAdjust="spacingAndGlyphs" >+200bp</text>
<text x="287.40" y="329.50" font-size="12.0" fill="#111" stroke="#111" stroke-width="0.16" >C</text>
<line x1="328.50" y1="344.50" x2="328.50" y2="476.40" stroke="#111" stroke-width="1.0" />
<line x1="324.40" y1="348.42" x2="328.50" y2="348.42" stroke="#111" stroke-width="0.8" />
<text x="322.70" y="350.87" font-size="7.44" fill="#222" stroke="#222" stroke-width="0.16" text-anchor="end" textLength="8.62" lengthAdjust="spacingAndGlyphs" >1,8</text>
<line x1="324.40" y1="358.54" x2="328.50" y2="358.54" stroke="#111" stroke-width="0.8" />
<text x="322.70" y="360.99" font-size="7.44" fill="#222" stroke="#222" stroke-width="0.16" text-anchor="end" textLength="8.62" lengthAdjust="spacingAndGlyphs" >1,6</text>
<line x1="324.40" y1="368.66" x2="328.50" y2="368.66" stroke="#111" stroke-width="0.8" />
<text x="322.70" y="371.11" font-size="7.44" fill="#222" stroke="#222" stroke-width="0.16" text-anchor="end" textLength="8.62" lengthAdjust="spacingAndGlyphs" >1,4</text>
<line x1="324.40" y1="378.78" x2="328.50" y2="378.78" stroke="#111" stroke-width="0.8" />
<text x="322.70" y="381.23" font-size="7.44" fill="#222" stroke="#222" stroke-width="0.16" text-anchor="end" textLength="8.62" lengthAdjust="spacingAndGlyphs" >1,2</text>
<line x1="324.40" y1="388.90" x2="328.50" y2="388.90" stroke="#111" stroke-width="0.8" />
<text x="322.70" y="391.35" font-size="7.44" fill="#222" stroke="#222" stroke-width="0.16" text-anchor="end" textLength="3.45" lengthAdjust="spacingAndGlyphs" >1</text>
<line x1="324.40" y1="399.02" x2="328.50" y2="399.02" stroke="#111" stroke-width="0.8" />
<text x="322.70" y="401.47" font-size="7.44" fill="#222" stroke="#222" stroke-width="0.16" text-anchor="end" textLength="8.62" lengthAdjust="spacingAndGlyphs" >0,8</text>
<line x1="324.40" y1="409.14" x2="328.50" y2="409.14" stroke="#111" stroke-width="0.8" />
<text x="322.70" y="411.59" font-size="7.44" fill="#222" stroke="#222" stroke-width="0.16" text-anchor="end" textLength="8.62" lengthAdjust="spacingAndGlyphs" >0,6</text>
<line x1="324.40" y1="419.26" x2="328.50" y2="419.26" stroke="#111" stroke-width="0.8" />
<text x="322.70" y="421.71" font-size="7.44" fill="#222" stroke="#222" stroke-width="0.16" text-anchor="end" textLength="8.62" lengthAdjust="spacingAndGlyphs" >0,4</text>
<line x1="324.40" y1="429.38" x2="328.50" y2="429.38" stroke="#111" stroke-width="0.8" />
<text x="322.70" y="431.83" font-size="7.44" fill="#222" stroke="#222" stroke-width="0.16" text-anchor="end" textLength="8.62" lengthAdjust="spacingAndGlyphs" >0,2</text>
<line x1="324.40" y1="439.50" x2="328.50" y2="439.50" stroke="#111" stroke-width="0.8" />
<text x="322.70" y="441.95" font-size="7.44" fill="#222" stroke="#222" stroke-width="0.16" text-anchor="end" textLength="3.45" lengthAdjust="spacingAndGlyphs" >0</text>
<text x="305.20" y="392.50" font-size="9.0" fill="#222" stroke="#222" stroke-width="0.16" text-anchor="middle" textLength="78.5" lengthAdjust="spacingAndGlyphs" transform="rotate(-90 305.20 392.50)" >Percentage of input</text>
<rect x="338.20" y="348.70" width="3.90" height="3.80" fill="#4c6185" />
<text x="345.00" y="353.00" font-size="6.82" fill="#222" stroke="#222" stroke-width="0.16" textLength="8.27" lengthAdjust="spacingAndGlyphs" >EV</text>
<rect x="338.20" y="357.00" width="3.90" height="3.80" fill="#a2394a" />
<text x="345.00" y="361.30" font-size="6.82" fill="#222" stroke="#222" stroke-width="0.16" textLength="23.09" lengthAdjust="spacingAndGlyphs" >sgRNA1</text>
<rect x="338.20" y="365.10" width="3.90" height="3.80" fill="#78a85a" />
<text x="345.00" y="369.40" font-size="6.82" fill="#222" stroke="#222" stroke-width="0.16" textLength="23.09" lengthAdjust="spacingAndGlyphs" >sgRNA2</text>
<line x1="328.50" y1="439.50" x2="513.00" y2="439.50" stroke="#111" stroke-width="1.0" />
<line x1="389.50" y1="439.50" x2="389.50" y2="476.40" stroke="#444" stroke-width="1.0" />
<line x1="450.50" y1="439.50" x2="450.50" y2="476.40" stroke="#444" stroke-width="1.0" />
<line x1="512.50" y1="439.50" x2="512.50" y2="476.40" stroke="#444" stroke-width="1.0" />
<rect x="364.20" y="438.20" width="6.50" height="0.80" fill="#4c6185" />
<rect x="370.70" y="439.00" width="6.50" height="0.00" fill="#a2394a" />
<rect x="378.80" y="438.80" width="6.20" height="0.20" fill="#78a85a" />
<line x1="367.40" y1="437.70" x2="367.40" y2="438.50" stroke="#1a1a1a" stroke-width="0.8" />
<line x1="366.10" y1="437.70" x2="368.70" y2="437.70" stroke="#1a1a1a" stroke-width="0.8" />
<line x1="366.10" y1="438.50" x2="368.70" y2="438.50" stroke="#1a1a1a" stroke-width="0.8" />
<rect x="425.80" y="438.20" width="6.40" height="0.80" fill="#4c6185" />
<rect x="432.20" y="358.80" width="7.00" height="80.20" fill="#a2394a" />
<rect x="439.20" y="397.00" width="6.60" height="42.00" fill="#78a85a" />
<line x1="435.70" y1="353.50" x2="435.70" y2="363.50" stroke="#1a1a1a" stroke-width="0.8" />
<line x1="434.20" y1="353.50" x2="437.20" y2="353.50" stroke="#1a1a1a" stroke-width="0.8" />
<line x1="434.20" y1="363.50" x2="437.20" y2="363.50" stroke="#1a1a1a" stroke-width="0.8" />
<line x1="442.50" y1="396.50" x2="442.50" y2="397.50" stroke="#1a1a1a" stroke-width="0.8" />
<line x1="441.20" y1="396.50" x2="443.80" y2="396.50" stroke="#1a1a1a" stroke-width="0.8" />
<line x1="441.20" y1="397.50" x2="443.80" y2="397.50" stroke="#1a1a1a" stroke-width="0.8" />
<line x1="429.00" y1="437.70" x2="429.00" y2="438.50" stroke="#1a1a1a" stroke-width="0.8" />
<line x1="427.70" y1="437.70" x2="430.30" y2="437.70" stroke="#1a1a1a" stroke-width="0.8" />
<line x1="427.70" y1="438.50" x2="430.30" y2="438.50" stroke="#1a1a1a" stroke-width="0.8" />
<rect x="486.50" y="438.00" width="6.70" height="1.00" fill="#4c6185" />
<rect x="493.20" y="376.20" width="6.80" height="62.80" fill="#a2394a" />
<rect x="500.00" y="399.20" width="7.00" height="39.80" fill="#78a85a" />
<line x1="496.60" y1="375.70" x2="496.60" y2="376.60" stroke="#1a1a1a" stroke-width="0.8" />
<line x1="495.30" y1="375.70" x2="497.90" y2="375.70" stroke="#1a1a1a" stroke-width="0.8" />
<line x1="495.30" y1="376.60" x2="497.90" y2="376.60" stroke="#1a1a1a" stroke-width="0.8" />
<line x1="503.50" y1="395.50" x2="503.50" y2="402.00" stroke="#1a1a1a" stroke-width="0.8" />
<line x1="502.00" y1="395.50" x2="505.00" y2="395.50" stroke="#1a1a1a" stroke-width="0.8" />
<line x1="502.00" y1="402.00" x2="505.00" y2="402.00" stroke="#1a1a1a" stroke-width="0.8" />
<line x1="489.80" y1="437.50" x2="489.80" y2="438.50" stroke="#1a1a1a" stroke-width="0.8" />
<line x1="488.50" y1="437.50" x2="491.10" y2="437.50" stroke="#1a1a1a" stroke-width="0.8" />
<line x1="488.50" y1="438.50" x2="491.10" y2="438.50" stroke="#1a1a1a" stroke-width="0.8" />
<line x1="427.00" y1="339.70" x2="442.00" y2="339.70" stroke="#1a1a1a" stroke-width="0.9" />
<text x="434.50" y="339.12" font-size="9.0" fill="#1a1a1a" stroke="#1a1a1a" stroke-width="0.16" text-anchor="middle" >**</text>
<line x1="426.50" y1="349.20" x2="435.50" y2="349.20" stroke="#1a1a1a" stroke-width="0.9" />
<text x="431.00" y="348.92" font-size="9.0" fill="#1a1a1a" stroke="#1a1a1a" stroke-width="0.16" text-anchor="middle" >**</text>
<line x1="488.50" y1="359.50" x2="503.50" y2="359.50" stroke="#1a1a1a" stroke-width="0.9" />
<text x="495.70" y="359.42" font-size="9.0" fill="#1a1a1a" stroke="#1a1a1a" stroke-width="0.16" text-anchor="middle" >**</text>
<line x1="488.00" y1="370.00" x2="496.60" y2="370.00" stroke="#1a1a1a" stroke-width="0.9" />
<text x="492.00" y="370.12" font-size="9.0" fill="#1a1a1a" stroke="#1a1a1a" stroke-width="0.16" text-anchor="middle" >**</text>
<text x="345.90" y="442.90" font-size="7.2" fill="#222" stroke="#222" stroke-width="0.16" text-anchor="end" textLength="9.6" lengthAdjust="spacingAndGlyphs" transform="rotate(-90 345.90 442.90)" >IgG</text>
<text x="375.90" y="442.90" font-size="7.0" fill="#222" stroke="#222" stroke-width="0.16" text-anchor="end" textLength="28.8" lengthAdjust="spacingAndGlyphs" transform="rotate(-90 375.90 442.90)" >H3K9me3</text>
<text x="406.70" y="442.90" font-size="7.2" fill="#222" stroke="#222" stroke-width="0.16" text-anchor="end" textLength="9.6" lengthAdjust="spacingAndGlyphs" transform="rotate(-90 406.70 442.90)" >IgG</text>
<text x="437.90" y="442.90" font-size="7.0" fill="#222" stroke="#222" stroke-width="0.16" text-anchor="end" textLength="28.8" lengthAdjust="spacingAndGlyphs" transform="rotate(-90 437.90 442.90)" >H3K9me3</text>
<text x="467.90" y="442.90" font-size="7.2" fill="#222" stroke="#222" stroke-width="0.16" text-anchor="end" textLength="9.6" lengthAdjust="spacingAndGlyphs" transform="rotate(-90 467.90 442.90)" >IgG</text>
<text x="498.60" y="442.90" font-size="7.0" fill="#222" stroke="#222" stroke-width="0.16" text-anchor="end" textLength="28.8" lengthAdjust="spacingAndGlyphs" transform="rotate(-90 498.60 442.90)" >H3K9me3</text>
<text x="358.50" y="487.15" font-size="7.13" fill="#222" stroke="#222" stroke-width="0.16" text-anchor="middle" textLength="26.05" lengthAdjust="spacingAndGlyphs" >Negative</text>
<text x="358.50" y="494.75" font-size="7.13" fill="#222" stroke="#222" stroke-width="0.16" text-anchor="middle" textLength="21.27" lengthAdjust="spacingAndGlyphs" >Control</text>
<text x="419.60" y="487.15" font-size="7.13" fill="#222" stroke="#222" stroke-width="0.16" text-anchor="middle" textLength="20.18" lengthAdjust="spacingAndGlyphs" >-135kb</text>
<text x="419.60" y="494.75" font-size="7.13" fill="#222" stroke="#222" stroke-width="0.16" text-anchor="middle" textLength="28.25" lengthAdjust="spacingAndGlyphs" >Enhancer</text>
<text x="419.60" y="502.85" font-size="7.13" fill="#222" stroke="#222" stroke-width="0.16" text-anchor="middle" textLength="19.81" lengthAdjust="spacingAndGlyphs" >Center</text>
<text x="481.50" y="487.15" font-size="7.13" fill="#222" stroke="#222" stroke-width="0.16" text-anchor="middle" textLength="20.18" lengthAdjust="spacingAndGlyphs" >-135kb</text>
<text x="481.50" y="494.75" font-size="7.13" fill="#222" stroke="#222" stroke-width="0.16" text-anchor="middle" textLength="28.25" lengthAdjust="spacingAndGlyphs" >Enhancer</text>
<text x="481.50" y="502.85" font-size="7.13" fill="#222" stroke="#222" stroke-width="0.16" text-anchor="middle" textLength="22.21" lengthAdjust="spacingAndGlyphs" >+200bp</text>
<text x="7.60" y="532.20" font-size="11.6" fill="#111" stroke="#111" stroke-width="0.16" >D</text>
<line x1="59.50" y1="548.70" x2="59.50" y2="660.60" stroke="#111" stroke-width="1.0" />
<line x1="56.00" y1="551.18" x2="59.50" y2="551.18" stroke="#111" stroke-width="0.8" />
<text x="53.30" y="553.63" font-size="7.44" fill="#222" stroke="#222" stroke-width="0.16" text-anchor="end" textLength="8.62" lengthAdjust="spacingAndGlyphs" >1.2</text>
<line x1="56.00" y1="568.90" x2="59.50" y2="568.90" stroke="#111" stroke-width="0.8" />
<text x="53.30" y="571.35" font-size="7.44" fill="#222" stroke="#222" stroke-width="0.16" text-anchor="end" textLength="3.45" lengthAdjust="spacingAndGlyphs" >1</text>
<line x1="56.00" y1="586.62" x2="59.50" y2="586.62" stroke="#111" stroke-width="0.8" />
<text x="53.30" y="589.07" font-size="7.44" fill="#222" stroke="#222" stroke-width="0.16" text-anchor="end" textLength="8.62" lengthAdjust="spacingAndGlyphs" >0.8</text>
<line x1="56.00" y1="604.34" x2="59.50" y2="604.34" stroke="#111" stroke-width="0.8" />
<text x="53.30" y="606.79" font-size="7.44" fill="#222" stroke="#222" stroke-width="0.16" text-anchor="end" textLength="8.62" lengthAdjust="spacingAndGlyphs" >0.6</text>
<line x1="56.00" y1="622.06" x2="59.50" y2="622.06" stroke="#111" stroke-width="0.8" />
<text x="53.30" y="624.51" font-size="7.44" fill="#222" stroke="#222" stroke-width="0.16" text-anchor="end" textLength="8.62" lengthAdjust="spacingAndGlyphs" >0.4</text>
<line x1="56.00" y1="639.78" x2="59.50" y2="639.78" stroke="#111" stroke-width="0.8" />
<text x="53.30" y="642.23" font-size="7.44" fill="#222" stroke="#222" stroke-width="0.16" text-anchor="end" textLength="8.62" lengthAdjust="spacingAndGlyphs" >0.2</text>
<line x1="56.00" y1="657.50" x2="59.50" y2="657.50" stroke="#111" stroke-width="0.8" />
<text x="53.30" y="659.95" font-size="7.44" fill="#222" stroke="#222" stroke-width="0.16" text-anchor="end" textLength="3.45" lengthAdjust="spacingAndGlyphs" >0</text>
<text x="26.30" y="602.50" font-size="8.8" fill="#222" stroke="#222" stroke-width="0.16" text-anchor="middle" textLength="60" lengthAdjust="spacingAndGlyphs" transform="rotate(-90 26.30 602.50)" >RNA expression</text>
<text x="36.30" y="602.50" font-size="8.8" fill="#222" stroke="#222" stroke-width="0.16" text-anchor="middle" textLength="87.5" lengthAdjust="spacingAndGlyphs" transform="rotate(-90 36.30 602.50)" >(relative to EV control)</text>
<line x1="59.50" y1="657.50" x2="229.60" y2="657.50" stroke="#111" stroke-width="1.0" />
<line x1="100.80" y1="657.50" x2="100.80" y2="660.30" stroke="#111" stroke-width="0.9" />
<line x1="143.10" y1="657.50" x2="143.10" y2="660.30" stroke="#111" stroke-width="0.9" />
<line x1="185.10" y1="657.50" x2="185.10" y2="660.30" stroke="#111" stroke-width="0.9" />
<line x1="226.80" y1="657.50" x2="226.80" y2="660.30" stroke="#111" stroke-width="0.9" />
<rect x="66.30" y="568.90" width="9.60" height="88.10" fill="#4c6185" />
<rect x="75.90" y="650.41" width="8.90" height="6.59" fill="#a2394a" />
<rect x="84.80" y="628.71" width="9.50" height="28.29" fill="#78a85a" />
<line x1="71.10" y1="561.30" x2="71.10" y2="576.30" stroke="#1a1a1a" stroke-width="0.8" />
<line x1="69.40" y1="561.30" x2="72.80" y2="561.30" stroke="#1a1a1a" stroke-width="0.8" />
<line x1="69.40" y1="576.30" x2="72.80" y2="576.30" stroke="#1a1a1a" stroke-width="0.8" />
<line x1="80.30" y1="649.91" x2="80.30" y2="650.91" stroke="#1a1a1a" stroke-width="0.8" />
<line x1="78.80" y1="649.91" x2="81.80" y2="649.91" stroke="#1a1a1a" stroke-width="0.8" />
<line x1="78.80" y1="650.91" x2="81.80" y2="650.91" stroke="#1a1a1a" stroke-width="0.8" />
<line x1="89.50" y1="627.91" x2="89.50" y2="629.50" stroke="#1a1a1a" stroke-width="0.8" />
<line x1="88.00" y1="627.91" x2="91.00" y2="627.91" stroke="#1a1a1a" stroke-width="0.8" />
<line x1="88.00" y1="629.50" x2="91.00" y2="629.50" stroke="#1a1a1a" stroke-width="0.8" />
<rect x="107.90" y="568.90" width="9.40" height="88.10" fill="#4c6185" />
<rect x="117.30" y="617.00" width="9.40" height="40.00" fill="#a2394a" />
<rect x="126.70" y="598.80" width="9.40" height="58.20" fill="#78a85a" />
<line x1="112.60" y1="566.30" x2="112.60" y2="571.30" stroke="#1a1a1a" stroke-width="0.8" />
<line x1="110.90" y1="566.30" x2="114.30" y2="566.30" stroke="#1a1a1a" stroke-width="0.8" />
<line x1="110.90" y1="571.30" x2="114.30" y2="571.30" stroke="#1a1a1a" stroke-width="0.8" />
<line x1="122.00" y1="613.30" x2="122.00" y2="620.80" stroke="#1a1a1a" stroke-width="0.8" />
<line x1="120.30" y1="613.30" x2="123.70" y2="613.30" stroke="#1a1a1a" stroke-width="0.8" />
<line x1="120.30" y1="620.80" x2="123.70" y2="620.80" stroke="#1a1a1a" stroke-width="0.8" />
<line x1="131.40" y1="590.50" x2="131.40" y2="607.50" stroke="#1a1a1a" stroke-width="0.8" />
<line x1="129.70" y1="590.50" x2="133.10" y2="590.50" stroke="#1a1a1a" stroke-width="0.8" />
<line x1="129.70" y1="607.50" x2="133.10" y2="607.50" stroke="#1a1a1a" stroke-width="0.8" />
<rect x="150.00" y="568.90" width="9.50" height="88.10" fill="#4c6185" />
<rect x="159.50" y="576.30" width="9.30" height="80.70" fill="#a2394a" />
<rect x="168.80" y="578.80" width="9.40" height="78.20" fill="#78a85a" />
<line x1="154.80" y1="566.30" x2="154.80" y2="571.30" stroke="#1a1a1a" stroke-width="0.8" />
<line x1="153.10" y1="566.30" x2="156.50" y2="566.30" stroke="#1a1a1a" stroke-width="0.8" />
<line x1="153.10" y1="571.30" x2="156.50" y2="571.30" stroke="#1a1a1a" stroke-width="0.8" />
<line x1="164.10" y1="574.00" x2="164.10" y2="578.50" stroke="#1a1a1a" stroke-width="0.8" />
<line x1="162.40" y1="574.00" x2="165.80" y2="574.00" stroke="#1a1a1a" stroke-width="0.8" />
<line x1="162.40" y1="578.50" x2="165.80" y2="578.50" stroke="#1a1a1a" stroke-width="0.8" />
<line x1="173.50" y1="576.50" x2="173.50" y2="580.50" stroke="#1a1a1a" stroke-width="0.8" />
<line x1="171.80" y1="576.50" x2="175.20" y2="576.50" stroke="#1a1a1a" stroke-width="0.8" />
<line x1="171.80" y1="580.50" x2="175.20" y2="580.50" stroke="#1a1a1a" stroke-width="0.8" />
<rect x="192.00" y="568.90" width="9.30" height="88.10" fill="#4c6185" />
<rect x="201.30" y="575.80" width="9.20" height="81.20" fill="#a2394a" />
<rect x="210.50" y="571.30" width="9.50" height="85.70" fill="#78a85a" />
<line x1="196.60" y1="565.80" x2="196.60" y2="571.80" stroke="#1a1a1a" stroke-width="0.8" />
<line x1="194.90" y1="565.80" x2="198.30" y2="565.80" stroke="#1a1a1a" stroke-width="0.8" />
<line x1="194.90" y1="571.80" x2="198.30" y2="571.80" stroke="#1a1a1a" stroke-width="0.8" />
<line x1="205.90" y1="565.50" x2="205.90" y2="585.80" stroke="#1a1a1a" stroke-width="0.8" />
<line x1="204.20" y1="565.50" x2="207.60" y2="565.50" stroke="#1a1a1a" stroke-width="0.8" />
<line x1="204.20" y1="585.80" x2="207.60" y2="585.80" stroke="#1a1a1a" stroke-width="0.8" />
<line x1="215.20" y1="563.00" x2="215.20" y2="579.30" stroke="#1a1a1a" stroke-width="0.8" />
<line x1="213.50" y1="563.00" x2="216.90" y2="563.00" stroke="#1a1a1a" stroke-width="0.8" />
<line x1="213.50" y1="579.30" x2="216.90" y2="579.30" stroke="#1a1a1a" stroke-width="0.8" />
<line x1="67.50" y1="546.50" x2="88.80" y2="546.50" stroke="#1a1a1a" stroke-width="0.9" />
<text x="78.00" y="546.42" font-size="9.0" fill="#1a1a1a" stroke="#1a1a1a" stroke-width="0.16" text-anchor="middle" >**</text>
<line x1="67.50" y1="557.00" x2="79.50" y2="557.00" stroke="#1a1a1a" stroke-width="0.9" />
<text x="73.80" y="556.92" font-size="9.0" fill="#1a1a1a" stroke="#1a1a1a" stroke-width="0.16" text-anchor="middle" >**</text>
<line x1="111.30" y1="546.70" x2="132.00" y2="546.70" stroke="#1a1a1a" stroke-width="0.9" />
<text x="121.40" y="546.12" font-size="9.0" fill="#1a1a1a" stroke="#1a1a1a" stroke-width="0.16" text-anchor="middle" >*</text>
<line x1="111.30" y1="557.00" x2="122.50" y2="557.00" stroke="#1a1a1a" stroke-width="0.9" />
<text x="117.00" y="556.92" font-size="9.0" fill="#1a1a1a" stroke="#1a1a1a" stroke-width="0.16" text-anchor="middle" >**</text>
<text x="80.10" y="669.60" font-size="6.91" fill="#222" stroke="#222" stroke-width="0.16" text-anchor="middle" textLength="41.3" lengthAdjust="spacingAndGlyphs" >XLOC_005968</text>
<text x="80.20" y="678.70" font-size="6.91" fill="#222" stroke="#222" stroke-width="0.16" text-anchor="middle" textLength="22.76" lengthAdjust="spacingAndGlyphs" >(ARIEL)</text>
<text x="122.00" y="669.60" font-size="6.91" fill="#222" stroke="#222" stroke-width="0.16" text-anchor="middle" textLength="23.12" lengthAdjust="spacingAndGlyphs" >ARID5B</text>
<text x="163.80" y="670.10" font-size="6.91" fill="#222" stroke="#222" stroke-width="0.16" text-anchor="middle" textLength="17.07" lengthAdjust="spacingAndGlyphs" >CDK1</text>
<text x="205.80" y="670.10" font-size="6.91" fill="#222" stroke="#222" stroke-width="0.16" text-anchor="middle" textLength="24.53" lengthAdjust="spacingAndGlyphs" >JMJD1C</text>
<rect x="238.20" y="592.60" width="3.90" height="3.80" fill="#4c6185" />
<text x="245.10" y="596.90" font-size="6.82" fill="#222" stroke="#222" stroke-width="0.16" textLength="8.27" lengthAdjust="spacingAndGlyphs" >EV</text>
<rect x="238.20" y="600.50" width="3.90" height="3.80" fill="#a2394a" />
<text x="245.10" y="604.80" font-size="6.82" fill="#222" stroke="#222" stroke-width="0.16" textLength="23.09" lengthAdjust="spacingAndGlyphs" >sgRNA1</text>
<rect x="238.20" y="608.60" width="3.90" height="3.80" fill="#78a85a" />
<text x="245.10" y="612.90" font-size="6.82" fill="#222" stroke="#222" stroke-width="0.16" textLength="23.09" lengthAdjust="spacingAndGlyphs" >sgRNA2</text>
<text x="287.30" y="532.40" font-size="11.6" fill="#111" stroke="#111" stroke-width="0.16" >E</text>
<line x1="328.50" y1="561.00" x2="328.50" y2="657.90" stroke="#111" stroke-width="1.0" />
<line x1="324.50" y1="563.70" x2="328.50" y2="563.70" stroke="#111" stroke-width="0.8" />
<text x="321.60" y="566.15" font-size="7.44" fill="#222" stroke="#222" stroke-width="0.16" text-anchor="end" textLength="6.9" lengthAdjust="spacingAndGlyphs" >15</text>
<line x1="324.50" y1="586.80" x2="328.50" y2="586.80" stroke="#111" stroke-width="0.8" />
<text x="321.60" y="589.25" font-size="7.44" fill="#222" stroke="#222" stroke-width="0.16" text-anchor="end" textLength="6.9" lengthAdjust="spacingAndGlyphs" >10</text>
<line x1="324.50" y1="609.90" x2="328.50" y2="609.90" stroke="#111" stroke-width="0.8" />
<text x="321.60" y="612.35" font-size="7.44" fill="#222" stroke="#222" stroke-width="0.16" text-anchor="end" textLength="3.45" lengthAdjust="spacingAndGlyphs" >5</text>
<line x1="324.50" y1="633.00" x2="328.50" y2="633.00" stroke="#111" stroke-width="0.8" />
<text x="321.60" y="635.45" font-size="7.44" fill="#222" stroke="#222" stroke-width="0.16" text-anchor="end" textLength="3.45" lengthAdjust="spacingAndGlyphs" >0</text>
<line x1="324.50" y1="656.10" x2="328.50" y2="656.10" stroke="#111" stroke-width="0.8" />
<text x="321.60" y="658.55" font-size="7.44" fill="#222" stroke="#222" stroke-width="0.16" text-anchor="end" textLength="5.51" lengthAdjust="spacingAndGlyphs" >-5</text>
<line x1="328.00" y1="657.40" x2="473.70" y2="657.40" stroke="#111" stroke-width="1.0" />
<line x1="364.50" y1="657.40" x2="364.50" y2="660.50" stroke="#111" stroke-width="0.9" />
<line x1="437.10" y1="657.40" x2="437.10" y2="660.50" stroke="#111" stroke-width="0.9" />
<text x="307.80" y="608.50" font-size="8.4" fill="#222" stroke="#222" stroke-width="0.16" text-anchor="middle" textLength="92" lengthAdjust="spacingAndGlyphs" transform="rotate(-90 307.80 608.50)" >ARIEL expression (TPM)</text>
<text x="400.70" y="537.50" font-size="8.6" fill="#222" stroke="#222" stroke-width="0.16" text-anchor="middle" textLength="59.4" lengthAdjust="spacingAndGlyphs" >TARGET Cohort</text>
<text x="400.70" y="549.20" font-size="6.2" fill="#222" stroke="#222" stroke-width="0.16" text-anchor="middle" textLength="20.3" lengthAdjust="spacingAndGlyphs" >p&lt;0.01</text>
<polyline points="366.2,560.4 366.2,554.4 435.5,554.4 435.5,560.4" fill="none" stroke="#111" stroke-width="0.9"/>
<text x="364.50" y="669.80" font-size="6.8" fill="#222" stroke="#222" stroke-width="0.08" text-anchor="middle" textLength="40.5" lengthAdjust="spacingAndGlyphs" >TAL1-positive</text>
<text x="364.50" y="677.80" font-size="6.8" fill="#222" stroke="#222" stroke-width="0.08" text-anchor="middle" textLength="18.39" lengthAdjust="spacingAndGlyphs" >(n=87)</text>
<text x="437.10" y="670.10" font-size="6.8" fill="#222" stroke="#222" stroke-width="0.08" text-anchor="middle" textLength="44" lengthAdjust="spacingAndGlyphs" >TAL1-negative</text>
<text x="437.10" y="678.20" font-size="6.8" fill="#222" stroke="#222" stroke-width="0.08" text-anchor="middle" textLength="21.89" lengthAdjust="spacingAndGlyphs" >(n=177)</text>
<circle cx="364.5" cy="567.5" r="1.75" fill="#41628f"/>
<circle cx="364.5" cy="573.0" r="1.75" fill="#41628f"/>
<circle cx="364.5" cy="594.6" r="1.75" fill="#41628f"/>
<circle cx="358.9" cy="599.5" r="1.75" fill="#41628f"/>
<circle cx="364.5" cy="600.5" r="1.75" fill="#41628f"/>
<circle cx="370.0" cy="598.6" r="1.75" fill="#41628f"/>
<circle cx="367.2" cy="606.3" r="1.75" fill="#41628f"/>
<circle cx="356.2" cy="611.8" r="1.75" fill="#41628f"/>
<circle cx="359.2" cy="610.8" r="1.75" fill="#41628f"/>
<circle cx="361.5" cy="615.4" r="1.75" fill="#41628f"/>
<circle cx="367.2" cy="616.5" r="1.75" fill="#41628f"/>
<circle cx="372.8" cy="614.6" r="1.75" fill="#41628f"/>
<circle cx="345.4" cy="619.2" r="1.75" fill="#41628f"/>
<circle cx="350.8" cy="620.0" r="1.75" fill="#41628f"/>
<circle cx="356.2" cy="621.5" r="1.75" fill="#41628f"/>
<circle cx="361.5" cy="623.0" r="1.75" fill="#41628f"/>
<circle cx="367.2" cy="622.6" r="1.75" fill="#41628f"/>
<circle cx="372.8" cy="620.8" r="1.75" fill="#41628f"/>
<circle cx="378.5" cy="619.5" r="1.75" fill="#41628f"/>
<circle cx="383.8" cy="618.9" r="1.75" fill="#41628f"/>
<circle cx="343.0" cy="624.3" r="1.75" fill="#41628f"/>
<circle cx="346.0" cy="624.6" r="1.75" fill="#41628f"/>
<circle cx="349.0" cy="624.8" r="1.75" fill="#41628f"/>
<circle cx="378.0" cy="624.5" r="1.75" fill="#41628f"/>
<circle cx="381.0" cy="624.2" r="1.75" fill="#41628f"/>
<circle cx="384.5" cy="624.0" r="1.75" fill="#41628f"/>
<circle cx="386.5" cy="623.5" r="1.75" fill="#41628f"/>
<circle cx="361.0" cy="626.5" r="1.75" fill="#41628f"/>
<circle cx="368.0" cy="626.5" r="1.75" fill="#41628f"/>
<circle cx="364.5" cy="628.5" r="1.75" fill="#41628f"/>
<polyline points="342.8,630.6 350,631.1 356,632.8 361.5,634.6" fill="none" stroke="#41628f" stroke-width="3.8" stroke-linecap="round" stroke-linejoin="round"/>
<polyline points="386.2,630.6 379,631.1 373,632.8 367.5,634.6" fill="none" stroke="#41628f" stroke-width="3.8" stroke-linecap="round" stroke-linejoin="round"/>
<circle cx="353.5" cy="628.4" r="1.6" fill="#41628f"/>
<circle cx="356.3" cy="628.8" r="1.6" fill="#41628f"/>
<circle cx="359.0" cy="629.4" r="1.6" fill="#41628f"/>
<circle cx="361.8" cy="630.2" r="1.6" fill="#41628f"/>
<circle cx="357.5" cy="630.8" r="1.6" fill="#41628f"/>
<circle cx="360.5" cy="632.0" r="1.6" fill="#41628f"/>
<circle cx="362.3" cy="633.6" r="1.6" fill="#41628f"/>
<circle cx="375.3" cy="628.4" r="1.6" fill="#41628f"/>
<circle cx="372.5" cy="628.8" r="1.6" fill="#41628f"/>
<circle cx="369.8" cy="629.4" r="1.6" fill="#41628f"/>
<circle cx="367.0" cy="630.2" r="1.6" fill="#41628f"/>
<circle cx="371.3" cy="630.8" r="1.6" fill="#41628f"/>
<circle cx="368.3" cy="632.0" r="1.6" fill="#41628f"/>
<circle cx="366.5" cy="633.6" r="1.6" fill="#41628f"/>
<circle cx="342.5" cy="624.4" r="1.5" fill="#41628f"/>
<circle cx="345.0" cy="624.3" r="1.5" fill="#41628f"/>
<circle cx="347.5" cy="624.6" r="1.5" fill="#41628f"/>
<circle cx="350.0" cy="624.8" r="1.5" fill="#41628f"/>
<circle cx="379.5" cy="624.6" r="1.5" fill="#41628f"/>
<circle cx="382.0" cy="624.3" r="1.5" fill="#41628f"/>
<circle cx="384.5" cy="624.1" r="1.5" fill="#41628f"/>
<circle cx="386.8" cy="623.6" r="1.5" fill="#41628f"/>
<circle cx="353.5" cy="627.2" r="1.5" fill="#41628f"/>
<circle cx="357.0" cy="627.5" r="1.5" fill="#41628f"/>
<circle cx="372.0" cy="627.5" r="1.5" fill="#41628f"/>
<circle cx="375.5" cy="627.2" r="1.5" fill="#41628f"/>
<line x1="340.30" y1="625.70" x2="388.40" y2="625.70" stroke="#1a1a1a" stroke-width="1.2" />
<line x1="364.40" y1="613.30" x2="364.40" y2="637.90" stroke="#1a1a1a" stroke-width="0.9" />
<line x1="352.20" y1="613.30" x2="376.70" y2="613.30" stroke="#1a1a1a" stroke-width="1.0" />
<line x1="352.20" y1="637.90" x2="376.70" y2="637.90" stroke="#666" stroke-width="1.0" />
<rect x="435.5" y="606.5" width="3.4" height="3.4" fill="#a5283c"/>
<rect x="432.6" y="610.9" width="3.4" height="3.4" fill="#a5283c"/>
<rect x="438.0" y="612.6" width="3.4" height="3.4" fill="#a5283c"/>
<rect x="429.5" y="618.6" width="3.4" height="3.4" fill="#a5283c"/>
<rect x="435.5" y="620.8" width="3.4" height="3.4" fill="#a5283c"/>
<rect x="440.9" y="620.3" width="3.4" height="3.4" fill="#a5283c"/>
<rect x="438.1" y="623.7" width="3.4" height="3.4" fill="#a5283c"/>
<rect x="413.5" y="622.5" width="3.4" height="3.4" fill="#a5283c"/>
<rect x="419.1" y="624.8" width="3.4" height="3.4" fill="#a5283c"/>
<rect x="424.1" y="625.2" width="3.4" height="3.4" fill="#a5283c"/>
<rect x="448.7" y="626.7" width="3.4" height="3.4" fill="#a5283c"/>
<rect x="454.3" y="624.4" width="3.4" height="3.4" fill="#a5283c"/>
<rect x="428.8" y="626.3" width="3.4" height="3.4" fill="#a5283c"/>
<rect x="431.8" y="627.3" width="3.4" height="3.4" fill="#a5283c"/>
<rect x="429.8" y="628.5" width="3.4" height="3.4" fill="#a5283c"/>
<rect x="438.8" y="626.3" width="3.4" height="3.4" fill="#a5283c"/>
<rect x="441.8" y="627.3" width="3.4" height="3.4" fill="#a5283c"/>
<rect x="439.8" y="628.5" width="3.4" height="3.4" fill="#a5283c"/>
<rect x="427.1" y="627.9" width="3.4" height="3.4" fill="#a5283c"/>
<rect x="444.1" y="627.9" width="3.4" height="3.4" fill="#a5283c"/>
<path d="M413.2,630.3 Q416,629.6 425,630.6 L437.4,630.9 L450,630.6 Q458,629.6 460.8,630.3 L460.8,633.2 Q452,635.6 437.4,635.6 Q423,635.6 413.2,633.2 Z" fill="#a5283c"/>
<line x1="413.00" y1="631.50" x2="460.60" y2="631.50" stroke="#1a1a1a" stroke-width="1.1" />
<line x1="437.60" y1="628.40" x2="437.60" y2="635.60" stroke="#1a1a1a" stroke-width="0.9" />
<line x1="424.70" y1="628.40" x2="449.30" y2="628.40" stroke="#1a1a1a" stroke-width="0.9" />
<line x1="424.70" y1="635.60" x2="449.30" y2="635.60" stroke="#555" stroke-width="1.0" />
<rect x="0" y="0" width="520" height="1.7" fill="#565656"/>
<rect x="0" y="0" width="1.2" height="688" fill="#111"/>
<rect x="518.0" y="0" width="2" height="688" fill="#575757"/>
<rect x="0" y="685.9" width="520" height="2.1" fill="#5a5a5a"/>
</svg></body></html>
